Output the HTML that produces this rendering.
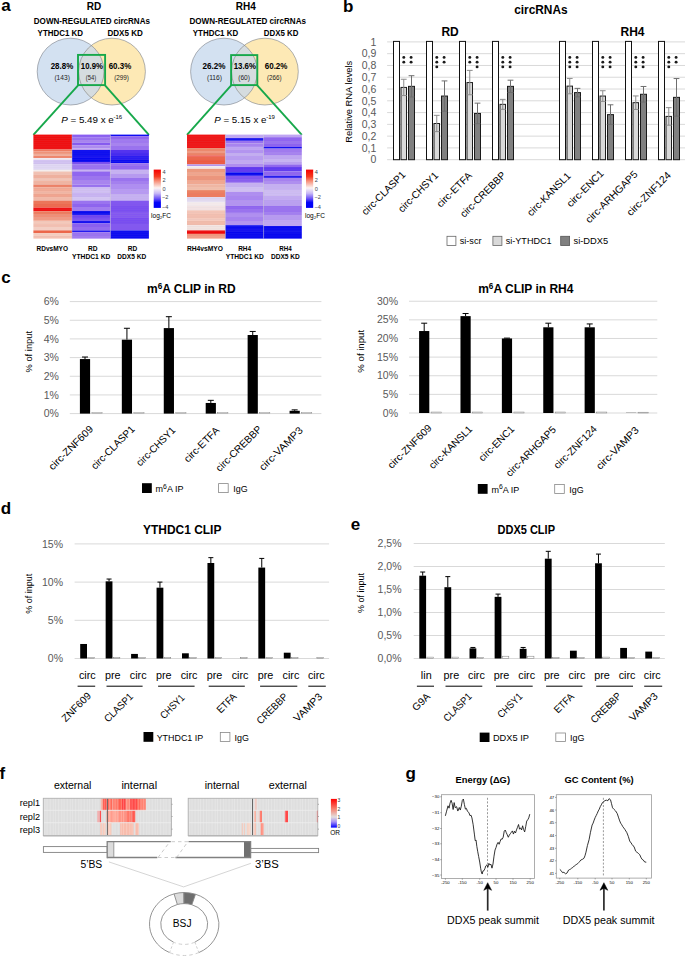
<!DOCTYPE html>
<html><head><meta charset="utf-8"><style>
html,body{margin:0;padding:0;background:#fff;}
body{width:685px;height:958px;overflow:hidden;}
svg{display:block;font-family:"Liberation Sans", sans-serif;}
</style></head><body>
<svg width="685" height="958" viewBox="0 0 685 958">
<rect x="0" y="0" width="685" height="958" fill="#fff"/>
<text x="1.20" y="11.30" font-size="17" font-weight="bold">a</text>
<text x="343.00" y="12.00" font-size="17" font-weight="bold">b</text>
<text x="1.20" y="282.50" font-size="17" font-weight="bold">c</text>
<text x="0.80" y="513.80" font-size="17" font-weight="bold">d</text>
<text x="350.70" y="530.20" font-size="17" font-weight="bold">e</text>
<text x="-0.50" y="779.00" font-size="17" font-weight="bold">f</text>
<text x="405.50" y="779.00" font-size="17" font-weight="bold">g</text>
<text x="93.90" y="9.60" font-size="10" text-anchor="middle" font-weight="bold">RD</text>
<text x="33.80" y="23.60" font-size="8.5" font-weight="bold" textLength="116.2" lengthAdjust="spacingAndGlyphs">DOWN-REGULATED circRNAs</text>
<text x="37.60" y="36.30" font-size="8.5" font-weight="bold" textLength="45.49999999999999" lengthAdjust="spacingAndGlyphs">YTHDC1 KD</text>
<text x="107.40" y="36.30" font-size="8.5" font-weight="bold" textLength="35.5" lengthAdjust="spacingAndGlyphs">DDX5 KD</text>
<clipPath id="c70"><circle cx="70.6" cy="71.6" r="33.4"/></clipPath>
<circle cx="70.6" cy="71.6" r="33.4" fill="#d3e1f1"/>
<circle cx="112.0" cy="71.6" r="33.4" fill="#fde9b5"/>
<circle cx="112.0" cy="71.6" r="33.4" fill="#d5dcdf" clip-path="url(#c70)"/>
<circle cx="70.6" cy="71.6" r="33.4" fill="none" stroke="#7a7f88" stroke-width="0.6"/>
<circle cx="112.0" cy="71.6" r="33.4" fill="none" stroke="#7a7f88" stroke-width="0.6"/>
<text x="50.70" y="69.00" font-size="8.6" font-weight="bold" textLength="22.5" lengthAdjust="spacingAndGlyphs">28.8%</text>
<text x="80.80" y="69.00" font-size="8.6" font-weight="bold" textLength="22.10000000000001" lengthAdjust="spacingAndGlyphs">10.9%</text>
<text x="108.70" y="69.00" font-size="8.6" font-weight="bold" textLength="22.499999999999986" lengthAdjust="spacingAndGlyphs">60.3%</text>
<text x="54.40" y="80.00" font-size="6.7" fill="#222" textLength="15.500000000000007" lengthAdjust="spacingAndGlyphs">(143)</text>
<text x="85.80" y="80.00" font-size="6.7" fill="#222" textLength="10.299999999999997" lengthAdjust="spacingAndGlyphs">(54)</text>
<text x="114.20" y="80.00" font-size="6.7" fill="#222" textLength="14.799999999999997" lengthAdjust="spacingAndGlyphs">(299)</text>
<rect x="78.00" y="54.90" width="27.10" height="30.20" fill="none" stroke="#17a84b" stroke-width="1.9"/>
<line x1="78.3" y1="85.1" x2="33.4" y2="134.8" stroke="#17a84b" stroke-width="1.9"/>
<line x1="104.8" y1="85.1" x2="148.9" y2="134.8" stroke="#17a84b" stroke-width="1.9"/>
<text x="61.20" y="123" font-size="9" textLength="52.6" lengthAdjust="spacingAndGlyphs"><tspan font-style="italic">P</tspan> = 5.49 x e</text>
<text x="113.50" y="118.50" font-size="6">-16</text>
<text x="245.70" y="9.60" font-size="10" text-anchor="middle" font-weight="bold">RH4</text>
<text x="189.40" y="23.60" font-size="8.5" font-weight="bold" textLength="116.6" lengthAdjust="spacingAndGlyphs">DOWN-REGULATED circRNAs</text>
<text x="192.80" y="36.30" font-size="8.5" font-weight="bold" textLength="45.39999999999998" lengthAdjust="spacingAndGlyphs">YTHDC1 KD</text>
<text x="263.80" y="36.30" font-size="8.5" font-weight="bold" textLength="34.69999999999999" lengthAdjust="spacingAndGlyphs">DDX5 KD</text>
<clipPath id="c224"><circle cx="224.0" cy="71.6" r="33.4"/></clipPath>
<circle cx="224.0" cy="71.6" r="33.4" fill="#d3e1f1"/>
<circle cx="264.9" cy="71.6" r="33.4" fill="#fde9b5"/>
<circle cx="264.9" cy="71.6" r="33.4" fill="#d5dcdf" clip-path="url(#c224)"/>
<circle cx="224.0" cy="71.6" r="33.4" fill="none" stroke="#7a7f88" stroke-width="0.6"/>
<circle cx="264.9" cy="71.6" r="33.4" fill="none" stroke="#7a7f88" stroke-width="0.6"/>
<text x="202.50" y="68.90" font-size="8.6" font-weight="bold" textLength="23.099999999999994" lengthAdjust="spacingAndGlyphs">26.2%</text>
<text x="233.70" y="68.90" font-size="8.6" font-weight="bold" textLength="22.30000000000001" lengthAdjust="spacingAndGlyphs">13.6%</text>
<text x="264.70" y="68.90" font-size="8.6" font-weight="bold" textLength="22.80000000000001" lengthAdjust="spacingAndGlyphs">60.2%</text>
<text x="206.90" y="80.00" font-size="6.7" fill="#222" textLength="15.199999999999989" lengthAdjust="spacingAndGlyphs">(116)</text>
<text x="238.20" y="80.00" font-size="6.7" fill="#222" textLength="11.700000000000017" lengthAdjust="spacingAndGlyphs">(60)</text>
<text x="267.00" y="80.00" font-size="6.7" fill="#222" textLength="14.699999999999989" lengthAdjust="spacingAndGlyphs">(266)</text>
<rect x="231.10" y="55.10" width="26.20" height="30.00" fill="none" stroke="#17a84b" stroke-width="1.9"/>
<line x1="231.4" y1="85.1" x2="187.0" y2="134.8" stroke="#17a84b" stroke-width="1.9"/>
<line x1="257.0" y1="85.1" x2="301.8" y2="134.8" stroke="#17a84b" stroke-width="1.9"/>
<text x="214.20" y="123" font-size="9" textLength="52.3" lengthAdjust="spacingAndGlyphs"><tspan font-style="italic">P</tspan> = 5.15 x e</text>
<text x="266.20" y="118.50" font-size="6">-19</text>
<rect x="33.40" y="134.60" width="38.60" height="14.92" fill="#f20d0d"/>
<rect x="33.40" y="149.50" width="38.60" height="2.02" fill="#f27a5e"/>
<rect x="33.40" y="151.50" width="38.60" height="2.42" fill="#f39277"/>
<rect x="33.40" y="153.90" width="38.60" height="1.92" fill="#f4ad98"/>
<rect x="33.40" y="155.80" width="38.60" height="2.22" fill="#f2866b"/>
<rect x="33.40" y="158.00" width="38.60" height="2.02" fill="#f3ebf3"/>
<rect x="33.40" y="160.00" width="38.60" height="4.02" fill="#d4c4f3"/>
<rect x="33.40" y="164.00" width="38.60" height="5.82" fill="#e2d9f5"/>
<rect x="33.40" y="169.80" width="38.60" height="1.72" fill="#f6efef"/>
<rect x="33.40" y="171.50" width="38.60" height="3.52" fill="#f5c3b3"/>
<rect x="33.40" y="175.00" width="38.60" height="3.02" fill="#f3b19d"/>
<rect x="33.40" y="178.00" width="38.60" height="3.02" fill="#f5c5b6"/>
<rect x="33.40" y="181.00" width="38.60" height="3.62" fill="#f3b5a2"/>
<rect x="33.40" y="184.60" width="38.60" height="2.92" fill="#f08266"/>
<rect x="33.40" y="187.50" width="38.60" height="3.52" fill="#f4ab95"/>
<rect x="33.40" y="191.00" width="38.60" height="3.02" fill="#f4b7a4"/>
<rect x="33.40" y="194.00" width="38.60" height="3.02" fill="#f4a58e"/>
<rect x="33.40" y="197.00" width="38.60" height="3.62" fill="#f5bba9"/>
<rect x="33.40" y="200.60" width="38.60" height="3.42" fill="#f07455"/>
<rect x="33.40" y="204.00" width="38.60" height="3.62" fill="#f06a4c"/>
<rect x="33.40" y="207.60" width="38.60" height="3.62" fill="#f21010"/>
<rect x="33.40" y="211.20" width="38.60" height="2.82" fill="#f07a5c"/>
<rect x="33.40" y="214.00" width="38.60" height="3.02" fill="#f28f75"/>
<rect x="33.40" y="217.00" width="38.60" height="3.82" fill="#f39c84"/>
<rect x="33.40" y="220.80" width="38.60" height="3.22" fill="#f7cabb"/>
<rect x="33.40" y="224.00" width="38.60" height="3.02" fill="#f6c2b2"/>
<rect x="33.40" y="227.00" width="38.60" height="3.42" fill="#f8d2c6"/>
<rect x="33.40" y="230.40" width="38.60" height="2.62" fill="#f06445"/>
<rect x="33.40" y="233.00" width="38.60" height="3.02" fill="#f8d0c2"/>
<rect x="33.40" y="236.00" width="38.60" height="2.62" fill="#f6c4b4"/>
<rect x="72.00" y="134.60" width="38.40" height="2.62" fill="#8a5ef2"/>
<rect x="72.00" y="137.20" width="38.40" height="2.82" fill="#9a71f2"/>
<rect x="72.00" y="140.00" width="38.40" height="2.62" fill="#a883f2"/>
<rect x="72.00" y="142.60" width="38.40" height="2.62" fill="#8659f2"/>
<rect x="72.00" y="145.20" width="38.40" height="3.32" fill="#ae8bf3"/>
<rect x="72.00" y="148.50" width="38.40" height="1.52" fill="#b89af3"/>
<rect x="72.00" y="150.00" width="38.40" height="6.02" fill="#0a0af2"/>
<rect x="72.00" y="156.00" width="38.40" height="2.02" fill="#140ff2"/>
<rect x="72.00" y="158.00" width="38.40" height="4.02" fill="#0606f2"/>
<rect x="72.00" y="162.00" width="38.40" height="2.62" fill="#7a4df2"/>
<rect x="72.00" y="164.60" width="38.40" height="5.22" fill="#9a71f2"/>
<rect x="72.00" y="169.80" width="38.40" height="1.62" fill="#c8b2f4"/>
<rect x="72.00" y="171.40" width="38.40" height="4.62" fill="#9064f2"/>
<rect x="72.00" y="176.00" width="38.40" height="4.02" fill="#9c73f2"/>
<rect x="72.00" y="180.00" width="38.40" height="4.62" fill="#a883f2"/>
<rect x="72.00" y="184.60" width="38.40" height="2.92" fill="#9a71f2"/>
<rect x="72.00" y="187.50" width="38.40" height="5.52" fill="#d2c1f5"/>
<rect x="72.00" y="193.00" width="38.40" height="4.02" fill="#cab5f4"/>
<rect x="72.00" y="197.00" width="38.40" height="3.62" fill="#d6c7f5"/>
<rect x="72.00" y="200.60" width="38.40" height="3.42" fill="#9a71f2"/>
<rect x="72.00" y="204.00" width="38.40" height="3.02" fill="#8e62f2"/>
<rect x="72.00" y="207.00" width="38.40" height="4.02" fill="#a27bf2"/>
<rect x="72.00" y="211.00" width="38.40" height="3.92" fill="#0808f2"/>
<rect x="72.00" y="214.90" width="38.40" height="3.12" fill="#7044f2"/>
<rect x="72.00" y="218.00" width="38.40" height="2.82" fill="#7c4ff2"/>
<rect x="72.00" y="220.80" width="38.40" height="2.62" fill="#120df2"/>
<rect x="72.00" y="223.40" width="38.40" height="3.62" fill="#8a5ef2"/>
<rect x="72.00" y="227.00" width="38.40" height="3.42" fill="#9469f2"/>
<rect x="72.00" y="230.40" width="38.40" height="1.82" fill="#2015f2"/>
<rect x="72.00" y="232.20" width="38.40" height="3.82" fill="#9a71f2"/>
<rect x="72.00" y="236.00" width="38.40" height="2.62" fill="#a27bf2"/>
<rect x="110.40" y="134.60" width="38.50" height="1.62" fill="#100cf2"/>
<rect x="110.40" y="136.20" width="38.50" height="2.82" fill="#9064f2"/>
<rect x="110.40" y="139.00" width="38.50" height="4.02" fill="#a078f2"/>
<rect x="110.40" y="143.00" width="38.50" height="3.02" fill="#a883f2"/>
<rect x="110.40" y="146.00" width="38.50" height="4.02" fill="#9a71f2"/>
<rect x="110.40" y="150.00" width="38.50" height="3.02" fill="#502ef2"/>
<rect x="110.40" y="153.00" width="38.50" height="3.02" fill="#4427f2"/>
<rect x="110.40" y="156.00" width="38.50" height="4.02" fill="#2a1af2"/>
<rect x="110.40" y="160.00" width="38.50" height="3.22" fill="#0a0af2"/>
<rect x="110.40" y="163.20" width="38.50" height="2.82" fill="#9a71f2"/>
<rect x="110.40" y="166.00" width="38.50" height="3.82" fill="#9267f2"/>
<rect x="110.40" y="169.80" width="38.50" height="4.22" fill="#c8b2f4"/>
<rect x="110.40" y="174.00" width="38.50" height="4.02" fill="#b89af3"/>
<rect x="110.40" y="178.00" width="38.50" height="3.02" fill="#9a71f2"/>
<rect x="110.40" y="181.00" width="38.50" height="3.02" fill="#a47ef2"/>
<rect x="110.40" y="184.00" width="38.50" height="5.02" fill="#b08ef4"/>
<rect x="110.40" y="189.00" width="38.50" height="5.02" fill="#b89af4"/>
<rect x="110.40" y="194.00" width="38.50" height="6.62" fill="#c8b2f4"/>
<rect x="110.40" y="200.60" width="38.50" height="5.42" fill="#8053f2"/>
<rect x="110.40" y="206.00" width="38.50" height="6.02" fill="#7a4df2"/>
<rect x="110.40" y="212.00" width="38.50" height="6.02" fill="#8457f2"/>
<rect x="110.40" y="218.00" width="38.50" height="6.02" fill="#784bf2"/>
<rect x="110.40" y="224.00" width="38.50" height="6.42" fill="#8255f2"/>
<rect x="110.40" y="230.40" width="38.50" height="8.22" fill="#0808f2"/>
<rect x="187.00" y="134.60" width="38.40" height="13.52" fill="#f21212"/>
<rect x="187.00" y="148.10" width="38.40" height="2.92" fill="#f08868"/>
<rect x="187.00" y="151.00" width="38.40" height="2.02" fill="#f39a80"/>
<rect x="187.00" y="153.00" width="38.40" height="2.72" fill="#f08466"/>
<rect x="187.00" y="155.70" width="38.40" height="0.92" fill="#f01818"/>
<rect x="187.00" y="156.60" width="38.40" height="3.42" fill="#f06448"/>
<rect x="187.00" y="160.00" width="38.40" height="4.42" fill="#f05a40"/>
<rect x="187.00" y="164.40" width="38.40" height="1.82" fill="#b494f2"/>
<rect x="187.00" y="166.20" width="38.40" height="2.62" fill="#f8f0f0"/>
<rect x="187.00" y="168.80" width="38.40" height="3.22" fill="#f09a7c"/>
<rect x="187.00" y="172.00" width="38.40" height="4.02" fill="#f3a68c"/>
<rect x="187.00" y="176.00" width="38.40" height="4.02" fill="#f0957a"/>
<rect x="187.00" y="180.00" width="38.40" height="4.62" fill="#f4a890"/>
<rect x="187.00" y="184.60" width="38.40" height="2.42" fill="#f4b8a2"/>
<rect x="187.00" y="187.00" width="38.40" height="3.12" fill="#f5c0ac"/>
<rect x="187.00" y="190.10" width="38.40" height="2.92" fill="#f08060"/>
<rect x="187.00" y="193.00" width="38.40" height="4.12" fill="#f07a5c"/>
<rect x="187.00" y="197.10" width="38.40" height="2.92" fill="#e2d9f3"/>
<rect x="187.00" y="200.00" width="38.40" height="2.42" fill="#e8e1f4"/>
<rect x="187.00" y="202.40" width="38.40" height="3.62" fill="#f8eeee"/>
<rect x="187.00" y="206.00" width="38.40" height="4.32" fill="#f6e6e6"/>
<rect x="187.00" y="210.30" width="38.40" height="3.72" fill="#f8c8b8"/>
<rect x="187.00" y="214.00" width="38.40" height="4.02" fill="#f6c0b0"/>
<rect x="187.00" y="218.00" width="38.40" height="3.02" fill="#f8ccbe"/>
<rect x="187.00" y="221.00" width="38.40" height="4.22" fill="#f5bcaa"/>
<rect x="187.00" y="225.20" width="38.40" height="5.22" fill="#f5e6e2"/>
<rect x="187.00" y="230.40" width="38.40" height="3.52" fill="#f20808"/>
<rect x="187.00" y="233.90" width="38.40" height="2.12" fill="#f4967c"/>
<rect x="187.00" y="236.00" width="38.40" height="2.62" fill="#f4a088"/>
<rect x="225.40" y="134.60" width="38.20" height="3.52" fill="#c2a9f4"/>
<rect x="225.40" y="138.10" width="38.20" height="2.72" fill="#120df2"/>
<rect x="225.40" y="140.80" width="38.20" height="2.72" fill="#9a71f2"/>
<rect x="225.40" y="143.50" width="38.20" height="3.42" fill="#a883f2"/>
<rect x="225.40" y="146.90" width="38.20" height="3.12" fill="#c0a6f4"/>
<rect x="225.40" y="150.00" width="38.20" height="3.02" fill="#b494f3"/>
<rect x="225.40" y="153.00" width="38.20" height="3.02" fill="#c6aff4"/>
<rect x="225.40" y="156.00" width="38.20" height="4.02" fill="#ba9df3"/>
<rect x="225.40" y="160.00" width="38.20" height="4.02" fill="#c4acf4"/>
<rect x="225.40" y="164.00" width="38.20" height="3.02" fill="#b08ef3"/>
<rect x="225.40" y="167.00" width="38.20" height="5.32" fill="#6038f2"/>
<rect x="225.40" y="172.30" width="38.20" height="3.52" fill="#0404f2"/>
<rect x="225.40" y="175.80" width="38.20" height="3.22" fill="#8053f2"/>
<rect x="225.40" y="179.00" width="38.20" height="3.82" fill="#8a5ef2"/>
<rect x="225.40" y="182.80" width="38.20" height="4.22" fill="#c8b2f4"/>
<rect x="225.40" y="187.00" width="38.20" height="4.92" fill="#d2c1f5"/>
<rect x="225.40" y="191.90" width="38.20" height="4.12" fill="#b08ef3"/>
<rect x="225.40" y="196.00" width="38.20" height="4.02" fill="#aa86f2"/>
<rect x="225.40" y="200.00" width="38.20" height="5.92" fill="#b494f3"/>
<rect x="225.40" y="205.90" width="38.20" height="3.12" fill="#9064f2"/>
<rect x="225.40" y="209.00" width="38.20" height="3.92" fill="#9a71f2"/>
<rect x="225.40" y="212.90" width="38.20" height="4.12" fill="#b08ef3"/>
<rect x="225.40" y="217.00" width="38.20" height="4.02" fill="#a883f2"/>
<rect x="225.40" y="221.00" width="38.20" height="4.22" fill="#b494f3"/>
<rect x="225.40" y="225.20" width="38.20" height="3.82" fill="#0606f2"/>
<rect x="225.40" y="229.00" width="38.20" height="3.02" fill="#100cf2"/>
<rect x="225.40" y="232.00" width="38.20" height="6.62" fill="#0404f2"/>
<rect x="263.60" y="134.60" width="38.20" height="2.62" fill="#c0a6f4"/>
<rect x="263.60" y="137.20" width="38.20" height="3.82" fill="#9064f2"/>
<rect x="263.60" y="141.00" width="38.20" height="3.02" fill="#9a71f2"/>
<rect x="263.60" y="144.00" width="38.20" height="2.92" fill="#8c60f2"/>
<rect x="263.60" y="146.90" width="38.20" height="1.72" fill="#120df2"/>
<rect x="263.60" y="148.60" width="38.20" height="3.42" fill="#a078f2"/>
<rect x="263.60" y="152.00" width="38.20" height="3.72" fill="#a883f2"/>
<rect x="263.60" y="155.70" width="38.20" height="3.32" fill="#c0a6f4"/>
<rect x="263.60" y="159.00" width="38.20" height="3.02" fill="#cab5f4"/>
<rect x="263.60" y="162.00" width="38.20" height="2.42" fill="#bca0f3"/>
<rect x="263.60" y="164.40" width="38.20" height="2.62" fill="#9064f2"/>
<rect x="263.60" y="167.00" width="38.20" height="4.42" fill="#6038f2"/>
<rect x="263.60" y="171.40" width="38.20" height="4.42" fill="#9064f2"/>
<rect x="263.60" y="175.80" width="38.20" height="2.12" fill="#2015f2"/>
<rect x="263.60" y="177.90" width="38.20" height="3.12" fill="#a883f2"/>
<rect x="263.60" y="181.00" width="38.20" height="3.02" fill="#b08ef3"/>
<rect x="263.60" y="184.00" width="38.20" height="6.02" fill="#c8b2f4"/>
<rect x="263.60" y="190.00" width="38.20" height="6.02" fill="#d0bef5"/>
<rect x="263.60" y="196.00" width="38.20" height="4.02" fill="#c4acf4"/>
<rect x="263.60" y="200.00" width="38.20" height="6.02" fill="#bca0f3"/>
<rect x="263.60" y="206.00" width="38.20" height="6.02" fill="#9a71f2"/>
<rect x="263.60" y="212.00" width="38.20" height="3.02" fill="#a47ef2"/>
<rect x="263.60" y="215.00" width="38.20" height="5.02" fill="#b89af3"/>
<rect x="263.60" y="220.00" width="38.20" height="6.02" fill="#c0a6f4"/>
<rect x="263.60" y="226.00" width="38.20" height="4.02" fill="#0404f2"/>
<rect x="263.60" y="230.00" width="38.20" height="3.02" fill="#0c0cf2"/>
<rect x="263.60" y="233.00" width="38.20" height="5.62" fill="#0202f2"/>
<line x1="33.40" y1="136.53" x2="148.90" y2="136.53" stroke="#a8a8b8" stroke-opacity="0.22" stroke-width="0.45"/>
<line x1="33.40" y1="138.45" x2="148.90" y2="138.45" stroke="#a8a8b8" stroke-opacity="0.22" stroke-width="0.45"/>
<line x1="33.40" y1="140.38" x2="148.90" y2="140.38" stroke="#a8a8b8" stroke-opacity="0.22" stroke-width="0.45"/>
<line x1="33.40" y1="142.30" x2="148.90" y2="142.30" stroke="#a8a8b8" stroke-opacity="0.22" stroke-width="0.45"/>
<line x1="33.40" y1="144.23" x2="148.90" y2="144.23" stroke="#a8a8b8" stroke-opacity="0.22" stroke-width="0.45"/>
<line x1="33.40" y1="146.16" x2="148.90" y2="146.16" stroke="#a8a8b8" stroke-opacity="0.22" stroke-width="0.45"/>
<line x1="33.40" y1="148.08" x2="148.90" y2="148.08" stroke="#a8a8b8" stroke-opacity="0.22" stroke-width="0.45"/>
<line x1="33.40" y1="150.01" x2="148.90" y2="150.01" stroke="#a8a8b8" stroke-opacity="0.22" stroke-width="0.45"/>
<line x1="33.40" y1="151.93" x2="148.90" y2="151.93" stroke="#a8a8b8" stroke-opacity="0.22" stroke-width="0.45"/>
<line x1="33.40" y1="153.86" x2="148.90" y2="153.86" stroke="#a8a8b8" stroke-opacity="0.22" stroke-width="0.45"/>
<line x1="33.40" y1="155.79" x2="148.90" y2="155.79" stroke="#a8a8b8" stroke-opacity="0.22" stroke-width="0.45"/>
<line x1="33.40" y1="157.71" x2="148.90" y2="157.71" stroke="#a8a8b8" stroke-opacity="0.22" stroke-width="0.45"/>
<line x1="33.40" y1="159.64" x2="148.90" y2="159.64" stroke="#a8a8b8" stroke-opacity="0.22" stroke-width="0.45"/>
<line x1="33.40" y1="161.56" x2="148.90" y2="161.56" stroke="#a8a8b8" stroke-opacity="0.22" stroke-width="0.45"/>
<line x1="33.40" y1="163.49" x2="148.90" y2="163.49" stroke="#a8a8b8" stroke-opacity="0.22" stroke-width="0.45"/>
<line x1="33.40" y1="165.41" x2="148.90" y2="165.41" stroke="#a8a8b8" stroke-opacity="0.22" stroke-width="0.45"/>
<line x1="33.40" y1="167.34" x2="148.90" y2="167.34" stroke="#a8a8b8" stroke-opacity="0.22" stroke-width="0.45"/>
<line x1="33.40" y1="169.27" x2="148.90" y2="169.27" stroke="#a8a8b8" stroke-opacity="0.22" stroke-width="0.45"/>
<line x1="33.40" y1="171.19" x2="148.90" y2="171.19" stroke="#a8a8b8" stroke-opacity="0.22" stroke-width="0.45"/>
<line x1="33.40" y1="173.12" x2="148.90" y2="173.12" stroke="#a8a8b8" stroke-opacity="0.22" stroke-width="0.45"/>
<line x1="33.40" y1="175.04" x2="148.90" y2="175.04" stroke="#a8a8b8" stroke-opacity="0.22" stroke-width="0.45"/>
<line x1="33.40" y1="176.97" x2="148.90" y2="176.97" stroke="#a8a8b8" stroke-opacity="0.22" stroke-width="0.45"/>
<line x1="33.40" y1="178.90" x2="148.90" y2="178.90" stroke="#a8a8b8" stroke-opacity="0.22" stroke-width="0.45"/>
<line x1="33.40" y1="180.82" x2="148.90" y2="180.82" stroke="#a8a8b8" stroke-opacity="0.22" stroke-width="0.45"/>
<line x1="33.40" y1="182.75" x2="148.90" y2="182.75" stroke="#a8a8b8" stroke-opacity="0.22" stroke-width="0.45"/>
<line x1="33.40" y1="184.67" x2="148.90" y2="184.67" stroke="#a8a8b8" stroke-opacity="0.22" stroke-width="0.45"/>
<line x1="33.40" y1="186.60" x2="148.90" y2="186.60" stroke="#a8a8b8" stroke-opacity="0.22" stroke-width="0.45"/>
<line x1="33.40" y1="188.53" x2="148.90" y2="188.53" stroke="#a8a8b8" stroke-opacity="0.22" stroke-width="0.45"/>
<line x1="33.40" y1="190.45" x2="148.90" y2="190.45" stroke="#a8a8b8" stroke-opacity="0.22" stroke-width="0.45"/>
<line x1="33.40" y1="192.38" x2="148.90" y2="192.38" stroke="#a8a8b8" stroke-opacity="0.22" stroke-width="0.45"/>
<line x1="33.40" y1="194.30" x2="148.90" y2="194.30" stroke="#a8a8b8" stroke-opacity="0.22" stroke-width="0.45"/>
<line x1="33.40" y1="196.23" x2="148.90" y2="196.23" stroke="#a8a8b8" stroke-opacity="0.22" stroke-width="0.45"/>
<line x1="33.40" y1="198.16" x2="148.90" y2="198.16" stroke="#a8a8b8" stroke-opacity="0.22" stroke-width="0.45"/>
<line x1="33.40" y1="200.08" x2="148.90" y2="200.08" stroke="#a8a8b8" stroke-opacity="0.22" stroke-width="0.45"/>
<line x1="33.40" y1="202.01" x2="148.90" y2="202.01" stroke="#a8a8b8" stroke-opacity="0.22" stroke-width="0.45"/>
<line x1="33.40" y1="203.93" x2="148.90" y2="203.93" stroke="#a8a8b8" stroke-opacity="0.22" stroke-width="0.45"/>
<line x1="33.40" y1="205.86" x2="148.90" y2="205.86" stroke="#a8a8b8" stroke-opacity="0.22" stroke-width="0.45"/>
<line x1="33.40" y1="207.79" x2="148.90" y2="207.79" stroke="#a8a8b8" stroke-opacity="0.22" stroke-width="0.45"/>
<line x1="33.40" y1="209.71" x2="148.90" y2="209.71" stroke="#a8a8b8" stroke-opacity="0.22" stroke-width="0.45"/>
<line x1="33.40" y1="211.64" x2="148.90" y2="211.64" stroke="#a8a8b8" stroke-opacity="0.22" stroke-width="0.45"/>
<line x1="33.40" y1="213.56" x2="148.90" y2="213.56" stroke="#a8a8b8" stroke-opacity="0.22" stroke-width="0.45"/>
<line x1="33.40" y1="215.49" x2="148.90" y2="215.49" stroke="#a8a8b8" stroke-opacity="0.22" stroke-width="0.45"/>
<line x1="33.40" y1="217.41" x2="148.90" y2="217.41" stroke="#a8a8b8" stroke-opacity="0.22" stroke-width="0.45"/>
<line x1="33.40" y1="219.34" x2="148.90" y2="219.34" stroke="#a8a8b8" stroke-opacity="0.22" stroke-width="0.45"/>
<line x1="33.40" y1="221.27" x2="148.90" y2="221.27" stroke="#a8a8b8" stroke-opacity="0.22" stroke-width="0.45"/>
<line x1="33.40" y1="223.19" x2="148.90" y2="223.19" stroke="#a8a8b8" stroke-opacity="0.22" stroke-width="0.45"/>
<line x1="33.40" y1="225.12" x2="148.90" y2="225.12" stroke="#a8a8b8" stroke-opacity="0.22" stroke-width="0.45"/>
<line x1="33.40" y1="227.04" x2="148.90" y2="227.04" stroke="#a8a8b8" stroke-opacity="0.22" stroke-width="0.45"/>
<line x1="33.40" y1="228.97" x2="148.90" y2="228.97" stroke="#a8a8b8" stroke-opacity="0.22" stroke-width="0.45"/>
<line x1="33.40" y1="230.90" x2="148.90" y2="230.90" stroke="#a8a8b8" stroke-opacity="0.22" stroke-width="0.45"/>
<line x1="33.40" y1="232.82" x2="148.90" y2="232.82" stroke="#a8a8b8" stroke-opacity="0.22" stroke-width="0.45"/>
<line x1="33.40" y1="234.75" x2="148.90" y2="234.75" stroke="#a8a8b8" stroke-opacity="0.22" stroke-width="0.45"/>
<line x1="33.40" y1="236.67" x2="148.90" y2="236.67" stroke="#a8a8b8" stroke-opacity="0.22" stroke-width="0.45"/>
<line x1="72.00" y1="134.60" x2="72.00" y2="238.60" stroke="#c0bcc8" stroke-opacity="0.7" stroke-width="0.6"/>
<line x1="110.40" y1="134.60" x2="110.40" y2="238.60" stroke="#c0bcc8" stroke-opacity="0.7" stroke-width="0.6"/>
<line x1="187.00" y1="136.33" x2="301.80" y2="136.33" stroke="#a8a8b8" stroke-opacity="0.22" stroke-width="0.45"/>
<line x1="187.00" y1="138.07" x2="301.80" y2="138.07" stroke="#a8a8b8" stroke-opacity="0.22" stroke-width="0.45"/>
<line x1="187.00" y1="139.80" x2="301.80" y2="139.80" stroke="#a8a8b8" stroke-opacity="0.22" stroke-width="0.45"/>
<line x1="187.00" y1="141.53" x2="301.80" y2="141.53" stroke="#a8a8b8" stroke-opacity="0.22" stroke-width="0.45"/>
<line x1="187.00" y1="143.27" x2="301.80" y2="143.27" stroke="#a8a8b8" stroke-opacity="0.22" stroke-width="0.45"/>
<line x1="187.00" y1="145.00" x2="301.80" y2="145.00" stroke="#a8a8b8" stroke-opacity="0.22" stroke-width="0.45"/>
<line x1="187.00" y1="146.73" x2="301.80" y2="146.73" stroke="#a8a8b8" stroke-opacity="0.22" stroke-width="0.45"/>
<line x1="187.00" y1="148.47" x2="301.80" y2="148.47" stroke="#a8a8b8" stroke-opacity="0.22" stroke-width="0.45"/>
<line x1="187.00" y1="150.20" x2="301.80" y2="150.20" stroke="#a8a8b8" stroke-opacity="0.22" stroke-width="0.45"/>
<line x1="187.00" y1="151.93" x2="301.80" y2="151.93" stroke="#a8a8b8" stroke-opacity="0.22" stroke-width="0.45"/>
<line x1="187.00" y1="153.67" x2="301.80" y2="153.67" stroke="#a8a8b8" stroke-opacity="0.22" stroke-width="0.45"/>
<line x1="187.00" y1="155.40" x2="301.80" y2="155.40" stroke="#a8a8b8" stroke-opacity="0.22" stroke-width="0.45"/>
<line x1="187.00" y1="157.13" x2="301.80" y2="157.13" stroke="#a8a8b8" stroke-opacity="0.22" stroke-width="0.45"/>
<line x1="187.00" y1="158.87" x2="301.80" y2="158.87" stroke="#a8a8b8" stroke-opacity="0.22" stroke-width="0.45"/>
<line x1="187.00" y1="160.60" x2="301.80" y2="160.60" stroke="#a8a8b8" stroke-opacity="0.22" stroke-width="0.45"/>
<line x1="187.00" y1="162.33" x2="301.80" y2="162.33" stroke="#a8a8b8" stroke-opacity="0.22" stroke-width="0.45"/>
<line x1="187.00" y1="164.07" x2="301.80" y2="164.07" stroke="#a8a8b8" stroke-opacity="0.22" stroke-width="0.45"/>
<line x1="187.00" y1="165.80" x2="301.80" y2="165.80" stroke="#a8a8b8" stroke-opacity="0.22" stroke-width="0.45"/>
<line x1="187.00" y1="167.53" x2="301.80" y2="167.53" stroke="#a8a8b8" stroke-opacity="0.22" stroke-width="0.45"/>
<line x1="187.00" y1="169.27" x2="301.80" y2="169.27" stroke="#a8a8b8" stroke-opacity="0.22" stroke-width="0.45"/>
<line x1="187.00" y1="171.00" x2="301.80" y2="171.00" stroke="#a8a8b8" stroke-opacity="0.22" stroke-width="0.45"/>
<line x1="187.00" y1="172.73" x2="301.80" y2="172.73" stroke="#a8a8b8" stroke-opacity="0.22" stroke-width="0.45"/>
<line x1="187.00" y1="174.47" x2="301.80" y2="174.47" stroke="#a8a8b8" stroke-opacity="0.22" stroke-width="0.45"/>
<line x1="187.00" y1="176.20" x2="301.80" y2="176.20" stroke="#a8a8b8" stroke-opacity="0.22" stroke-width="0.45"/>
<line x1="187.00" y1="177.93" x2="301.80" y2="177.93" stroke="#a8a8b8" stroke-opacity="0.22" stroke-width="0.45"/>
<line x1="187.00" y1="179.67" x2="301.80" y2="179.67" stroke="#a8a8b8" stroke-opacity="0.22" stroke-width="0.45"/>
<line x1="187.00" y1="181.40" x2="301.80" y2="181.40" stroke="#a8a8b8" stroke-opacity="0.22" stroke-width="0.45"/>
<line x1="187.00" y1="183.13" x2="301.80" y2="183.13" stroke="#a8a8b8" stroke-opacity="0.22" stroke-width="0.45"/>
<line x1="187.00" y1="184.87" x2="301.80" y2="184.87" stroke="#a8a8b8" stroke-opacity="0.22" stroke-width="0.45"/>
<line x1="187.00" y1="186.60" x2="301.80" y2="186.60" stroke="#a8a8b8" stroke-opacity="0.22" stroke-width="0.45"/>
<line x1="187.00" y1="188.33" x2="301.80" y2="188.33" stroke="#a8a8b8" stroke-opacity="0.22" stroke-width="0.45"/>
<line x1="187.00" y1="190.07" x2="301.80" y2="190.07" stroke="#a8a8b8" stroke-opacity="0.22" stroke-width="0.45"/>
<line x1="187.00" y1="191.80" x2="301.80" y2="191.80" stroke="#a8a8b8" stroke-opacity="0.22" stroke-width="0.45"/>
<line x1="187.00" y1="193.53" x2="301.80" y2="193.53" stroke="#a8a8b8" stroke-opacity="0.22" stroke-width="0.45"/>
<line x1="187.00" y1="195.27" x2="301.80" y2="195.27" stroke="#a8a8b8" stroke-opacity="0.22" stroke-width="0.45"/>
<line x1="187.00" y1="197.00" x2="301.80" y2="197.00" stroke="#a8a8b8" stroke-opacity="0.22" stroke-width="0.45"/>
<line x1="187.00" y1="198.73" x2="301.80" y2="198.73" stroke="#a8a8b8" stroke-opacity="0.22" stroke-width="0.45"/>
<line x1="187.00" y1="200.47" x2="301.80" y2="200.47" stroke="#a8a8b8" stroke-opacity="0.22" stroke-width="0.45"/>
<line x1="187.00" y1="202.20" x2="301.80" y2="202.20" stroke="#a8a8b8" stroke-opacity="0.22" stroke-width="0.45"/>
<line x1="187.00" y1="203.93" x2="301.80" y2="203.93" stroke="#a8a8b8" stroke-opacity="0.22" stroke-width="0.45"/>
<line x1="187.00" y1="205.67" x2="301.80" y2="205.67" stroke="#a8a8b8" stroke-opacity="0.22" stroke-width="0.45"/>
<line x1="187.00" y1="207.40" x2="301.80" y2="207.40" stroke="#a8a8b8" stroke-opacity="0.22" stroke-width="0.45"/>
<line x1="187.00" y1="209.13" x2="301.80" y2="209.13" stroke="#a8a8b8" stroke-opacity="0.22" stroke-width="0.45"/>
<line x1="187.00" y1="210.87" x2="301.80" y2="210.87" stroke="#a8a8b8" stroke-opacity="0.22" stroke-width="0.45"/>
<line x1="187.00" y1="212.60" x2="301.80" y2="212.60" stroke="#a8a8b8" stroke-opacity="0.22" stroke-width="0.45"/>
<line x1="187.00" y1="214.33" x2="301.80" y2="214.33" stroke="#a8a8b8" stroke-opacity="0.22" stroke-width="0.45"/>
<line x1="187.00" y1="216.07" x2="301.80" y2="216.07" stroke="#a8a8b8" stroke-opacity="0.22" stroke-width="0.45"/>
<line x1="187.00" y1="217.80" x2="301.80" y2="217.80" stroke="#a8a8b8" stroke-opacity="0.22" stroke-width="0.45"/>
<line x1="187.00" y1="219.53" x2="301.80" y2="219.53" stroke="#a8a8b8" stroke-opacity="0.22" stroke-width="0.45"/>
<line x1="187.00" y1="221.27" x2="301.80" y2="221.27" stroke="#a8a8b8" stroke-opacity="0.22" stroke-width="0.45"/>
<line x1="187.00" y1="223.00" x2="301.80" y2="223.00" stroke="#a8a8b8" stroke-opacity="0.22" stroke-width="0.45"/>
<line x1="187.00" y1="224.73" x2="301.80" y2="224.73" stroke="#a8a8b8" stroke-opacity="0.22" stroke-width="0.45"/>
<line x1="187.00" y1="226.47" x2="301.80" y2="226.47" stroke="#a8a8b8" stroke-opacity="0.22" stroke-width="0.45"/>
<line x1="187.00" y1="228.20" x2="301.80" y2="228.20" stroke="#a8a8b8" stroke-opacity="0.22" stroke-width="0.45"/>
<line x1="187.00" y1="229.93" x2="301.80" y2="229.93" stroke="#a8a8b8" stroke-opacity="0.22" stroke-width="0.45"/>
<line x1="187.00" y1="231.67" x2="301.80" y2="231.67" stroke="#a8a8b8" stroke-opacity="0.22" stroke-width="0.45"/>
<line x1="187.00" y1="233.40" x2="301.80" y2="233.40" stroke="#a8a8b8" stroke-opacity="0.22" stroke-width="0.45"/>
<line x1="187.00" y1="235.13" x2="301.80" y2="235.13" stroke="#a8a8b8" stroke-opacity="0.22" stroke-width="0.45"/>
<line x1="187.00" y1="236.87" x2="301.80" y2="236.87" stroke="#a8a8b8" stroke-opacity="0.22" stroke-width="0.45"/>
<line x1="225.40" y1="134.60" x2="225.40" y2="238.60" stroke="#c0bcc8" stroke-opacity="0.7" stroke-width="0.6"/>
<line x1="263.60" y1="134.60" x2="263.60" y2="238.60" stroke="#c0bcc8" stroke-opacity="0.7" stroke-width="0.6"/>
<defs><linearGradient id="cbgrad" x1="0" y1="0" x2="0" y2="1"><stop offset="0" stop-color="#f50000"/><stop offset="0.18" stop-color="#f63a20"/><stop offset="0.3" stop-color="#f7907a"/><stop offset="0.48" stop-color="#fbf4f4"/><stop offset="0.62" stop-color="#c8b8f6"/><stop offset="0.76" stop-color="#6a50f6"/><stop offset="0.86" stop-color="#0404f8"/><stop offset="1" stop-color="#0000f5"/></linearGradient></defs>
<rect x="153.7" y="169.6" width="7.2" height="38.3" fill="url(#cbgrad)"/>
<text x="162.40" y="173.60" font-size="5.6" fill="#3b4550">4</text>
<text x="162.40" y="182.00" font-size="5.6" fill="#3b4550">2</text>
<text x="162.40" y="190.80" font-size="5.6" fill="#3b4550">0</text>
<text x="162.10" y="199.30" font-size="5.6" fill="#3b4550">−2</text>
<text x="162.10" y="208.60" font-size="5.6" fill="#3b4550">−4</text>
<text x="151.10" y="217.60" font-size="6.8" textLength="20" lengthAdjust="spacingAndGlyphs">log₂FC</text>
<rect x="306.0" y="169.6" width="7.2" height="38.3" fill="url(#cbgrad)"/>
<text x="314.70" y="173.60" font-size="5.6" fill="#3b4550">4</text>
<text x="314.70" y="182.00" font-size="5.6" fill="#3b4550">2</text>
<text x="314.70" y="190.80" font-size="5.6" fill="#3b4550">0</text>
<text x="314.40" y="199.30" font-size="5.6" fill="#3b4550">−2</text>
<text x="314.40" y="208.60" font-size="5.6" fill="#3b4550">−4</text>
<text x="305.00" y="217.60" font-size="6.8" textLength="20" lengthAdjust="spacingAndGlyphs">log₂FC</text>
<text x="36.60" y="250.90" font-size="6.8" font-weight="bold" textLength="31.4" lengthAdjust="spacingAndGlyphs">RDvsMYO</text>
<text x="87.90" y="250.90" font-size="6.8" font-weight="bold" textLength="9.5" lengthAdjust="spacingAndGlyphs">RD</text>
<text x="72.10" y="258.90" font-size="6.8" font-weight="bold" textLength="38.2" lengthAdjust="spacingAndGlyphs">YTHDC1 KD</text>
<text x="127.70" y="250.90" font-size="6.8" font-weight="bold" textLength="9.499999999999986" lengthAdjust="spacingAndGlyphs">RD</text>
<text x="117.30" y="258.90" font-size="6.8" font-weight="bold" textLength="28.89999999999999" lengthAdjust="spacingAndGlyphs">DDX5 KD</text>
<text x="186.90" y="250.90" font-size="6.8" font-weight="bold" textLength="36.0" lengthAdjust="spacingAndGlyphs">RH4vsMYO</text>
<text x="238.20" y="250.90" font-size="6.8" font-weight="bold" textLength="12.900000000000006" lengthAdjust="spacingAndGlyphs">RH4</text>
<text x="225.80" y="258.90" font-size="6.8" font-weight="bold" textLength="38.0" lengthAdjust="spacingAndGlyphs">YTHDC1 KD</text>
<text x="279.20" y="250.90" font-size="6.8" font-weight="bold" textLength="12.400000000000034" lengthAdjust="spacingAndGlyphs">RH4</text>
<text x="271.00" y="258.90" font-size="6.8" font-weight="bold" textLength="28.80000000000001" lengthAdjust="spacingAndGlyphs">DDX5 KD</text>
<text x="450.10" y="36.00" font-size="12" text-anchor="middle" font-weight="bold">RD</text>
<text x="632.50" y="36.00" font-size="12" text-anchor="middle" font-weight="bold">RH4</text>
<text x="514.20" y="13.70" font-size="12" font-weight="bold" textLength="53.4" lengthAdjust="spacingAndGlyphs">circRNAs</text>
<line x1="387.10" y1="159.70" x2="685.00" y2="159.70" stroke="#d9d9d9" stroke-width="1" />
<text x="376.30" y="163.40" font-size="10.5" text-anchor="end" fill="#595959">0</text>
<line x1="387.10" y1="147.92" x2="685.00" y2="147.92" stroke="#d9d9d9" stroke-width="1" />
<text x="376.30" y="151.62" font-size="10.5" text-anchor="end" fill="#595959">0,1</text>
<line x1="387.10" y1="136.14" x2="685.00" y2="136.14" stroke="#d9d9d9" stroke-width="1" />
<text x="376.30" y="139.84" font-size="10.5" text-anchor="end" fill="#595959">0,2</text>
<line x1="387.10" y1="124.36" x2="685.00" y2="124.36" stroke="#d9d9d9" stroke-width="1" />
<text x="376.30" y="128.06" font-size="10.5" text-anchor="end" fill="#595959">0,3</text>
<line x1="387.10" y1="112.58" x2="685.00" y2="112.58" stroke="#d9d9d9" stroke-width="1" />
<text x="376.30" y="116.28" font-size="10.5" text-anchor="end" fill="#595959">0,4</text>
<line x1="387.10" y1="100.80" x2="685.00" y2="100.80" stroke="#d9d9d9" stroke-width="1" />
<text x="376.30" y="104.50" font-size="10.5" text-anchor="end" fill="#595959">0,5</text>
<line x1="387.10" y1="89.02" x2="685.00" y2="89.02" stroke="#d9d9d9" stroke-width="1" />
<text x="376.30" y="92.72" font-size="10.5" text-anchor="end" fill="#595959">0,6</text>
<line x1="387.10" y1="77.24" x2="685.00" y2="77.24" stroke="#d9d9d9" stroke-width="1" />
<text x="376.30" y="80.94" font-size="10.5" text-anchor="end" fill="#595959">0,7</text>
<line x1="387.10" y1="65.46" x2="685.00" y2="65.46" stroke="#d9d9d9" stroke-width="1" />
<text x="376.30" y="69.16" font-size="10.5" text-anchor="end" fill="#595959">0,8</text>
<line x1="387.10" y1="53.68" x2="685.00" y2="53.68" stroke="#d9d9d9" stroke-width="1" />
<text x="376.30" y="57.38" font-size="10.5" text-anchor="end" fill="#595959">0,9</text>
<line x1="387.10" y1="41.90" x2="685.00" y2="41.90" stroke="#d9d9d9" stroke-width="1" />
<text x="376.30" y="45.60" font-size="10.5" text-anchor="end" fill="#595959">1</text>
<text x="352.10" y="101.70" font-size="9.5" text-anchor="middle" transform="rotate(-90 352.10 101.70)" textLength="82" lengthAdjust="spacingAndGlyphs">Relative RNA levels</text>
<rect x="393.50" y="41.40" width="6" height="118.30" fill="#fff" stroke="#111" stroke-width="1"/>
<rect x="401.00" y="87.42" width="5.5" height="72.28" fill="#d9d9d9" stroke="#1e1e1e" stroke-width="1"/>
<rect x="408.50" y="86.35" width="6" height="73.35" fill="#808080" stroke="#1a1a1a" stroke-width="1"/>
<line x1="403.75" y1="79.26" x2="403.75" y2="95.58" stroke="#8c8c8c" stroke-width="1" />
<line x1="400.85" y1="79.26" x2="406.65" y2="79.26" stroke="#8c8c8c" stroke-width="1" />
<line x1="400.85" y1="95.58" x2="406.65" y2="95.58" stroke="#8c8c8c" stroke-width="1" />
<line x1="411.50" y1="75.71" x2="411.50" y2="97.00" stroke="#6e6e6e" stroke-width="1" />
<line x1="408.60" y1="75.71" x2="414.40" y2="75.71" stroke="#6e6e6e" stroke-width="1" />
<line x1="408.60" y1="97.00" x2="414.40" y2="97.00" stroke="#6e6e6e" stroke-width="1" />
<circle cx="403.80" cy="57.40" r="1.45" fill="#1a1a1a"/>
<circle cx="403.80" cy="62.15" r="1.45" fill="#1a1a1a"/>
<circle cx="411.10" cy="57.40" r="1.45" fill="#1a1a1a"/>
<circle cx="411.10" cy="62.15" r="1.45" fill="#1a1a1a"/>
<rect x="426.50" y="41.40" width="6" height="118.30" fill="#fff" stroke="#111" stroke-width="1"/>
<rect x="434.00" y="123.50" width="5.5" height="36.20" fill="#d9d9d9" stroke="#1e1e1e" stroke-width="1"/>
<rect x="441.50" y="96.05" width="6" height="63.65" fill="#808080" stroke="#1a1a1a" stroke-width="1"/>
<line x1="436.75" y1="115.34" x2="436.75" y2="131.66" stroke="#8c8c8c" stroke-width="1" />
<line x1="433.85" y1="115.34" x2="439.65" y2="115.34" stroke="#8c8c8c" stroke-width="1" />
<line x1="433.85" y1="131.66" x2="439.65" y2="131.66" stroke="#8c8c8c" stroke-width="1" />
<line x1="444.50" y1="80.91" x2="444.50" y2="111.20" stroke="#6e6e6e" stroke-width="1" />
<line x1="441.60" y1="80.91" x2="447.40" y2="80.91" stroke="#6e6e6e" stroke-width="1" />
<line x1="441.60" y1="111.20" x2="447.40" y2="111.20" stroke="#6e6e6e" stroke-width="1" />
<circle cx="436.80" cy="57.40" r="1.45" fill="#1a1a1a"/>
<circle cx="436.80" cy="62.15" r="1.45" fill="#1a1a1a"/>
<circle cx="436.80" cy="66.90" r="1.45" fill="#1a1a1a"/>
<circle cx="444.10" cy="57.40" r="1.45" fill="#1a1a1a"/>
<circle cx="444.10" cy="62.15" r="1.45" fill="#1a1a1a"/>
<rect x="459.50" y="41.40" width="6" height="118.30" fill="#fff" stroke="#111" stroke-width="1"/>
<rect x="467.00" y="82.57" width="5.5" height="77.13" fill="#d9d9d9" stroke="#1e1e1e" stroke-width="1"/>
<rect x="474.50" y="113.44" width="6" height="46.26" fill="#808080" stroke="#1a1a1a" stroke-width="1"/>
<line x1="469.75" y1="70.38" x2="469.75" y2="94.75" stroke="#8c8c8c" stroke-width="1" />
<line x1="466.85" y1="70.38" x2="472.65" y2="70.38" stroke="#8c8c8c" stroke-width="1" />
<line x1="466.85" y1="94.75" x2="472.65" y2="94.75" stroke="#8c8c8c" stroke-width="1" />
<line x1="477.50" y1="103.15" x2="477.50" y2="123.74" stroke="#6e6e6e" stroke-width="1" />
<line x1="474.60" y1="103.15" x2="480.40" y2="103.15" stroke="#6e6e6e" stroke-width="1" />
<line x1="474.60" y1="123.74" x2="480.40" y2="123.74" stroke="#6e6e6e" stroke-width="1" />
<circle cx="469.80" cy="57.40" r="1.45" fill="#1a1a1a"/>
<circle cx="469.80" cy="62.15" r="1.45" fill="#1a1a1a"/>
<circle cx="477.10" cy="57.40" r="1.45" fill="#1a1a1a"/>
<circle cx="477.10" cy="62.15" r="1.45" fill="#1a1a1a"/>
<circle cx="477.10" cy="66.90" r="1.45" fill="#1a1a1a"/>
<rect x="492.50" y="41.40" width="6" height="118.30" fill="#fff" stroke="#111" stroke-width="1"/>
<rect x="500.00" y="104.34" width="5.5" height="55.36" fill="#d9d9d9" stroke="#1e1e1e" stroke-width="1"/>
<rect x="507.50" y="86.35" width="6" height="73.35" fill="#808080" stroke="#1a1a1a" stroke-width="1"/>
<line x1="502.75" y1="99.37" x2="502.75" y2="109.30" stroke="#8c8c8c" stroke-width="1" />
<line x1="499.85" y1="99.37" x2="505.65" y2="99.37" stroke="#8c8c8c" stroke-width="1" />
<line x1="499.85" y1="109.30" x2="505.65" y2="109.30" stroke="#8c8c8c" stroke-width="1" />
<line x1="510.50" y1="80.20" x2="510.50" y2="92.51" stroke="#6e6e6e" stroke-width="1" />
<line x1="507.60" y1="80.20" x2="513.40" y2="80.20" stroke="#6e6e6e" stroke-width="1" />
<line x1="507.60" y1="92.51" x2="513.40" y2="92.51" stroke="#6e6e6e" stroke-width="1" />
<circle cx="502.80" cy="57.40" r="1.45" fill="#1a1a1a"/>
<circle cx="502.80" cy="62.15" r="1.45" fill="#1a1a1a"/>
<circle cx="502.80" cy="66.90" r="1.45" fill="#1a1a1a"/>
<circle cx="510.10" cy="57.40" r="1.45" fill="#1a1a1a"/>
<circle cx="510.10" cy="62.15" r="1.45" fill="#1a1a1a"/>
<circle cx="510.10" cy="66.90" r="1.45" fill="#1a1a1a"/>
<rect x="559.50" y="41.40" width="6" height="118.30" fill="#fff" stroke="#111" stroke-width="1"/>
<rect x="567.00" y="86.12" width="5.5" height="73.58" fill="#d9d9d9" stroke="#1e1e1e" stroke-width="1"/>
<rect x="574.50" y="92.62" width="6" height="67.08" fill="#808080" stroke="#1a1a1a" stroke-width="1"/>
<line x1="569.75" y1="78.43" x2="569.75" y2="93.81" stroke="#8c8c8c" stroke-width="1" />
<line x1="566.85" y1="78.43" x2="572.65" y2="78.43" stroke="#8c8c8c" stroke-width="1" />
<line x1="566.85" y1="93.81" x2="572.65" y2="93.81" stroke="#8c8c8c" stroke-width="1" />
<line x1="577.50" y1="88.37" x2="577.50" y2="96.88" stroke="#6e6e6e" stroke-width="1" />
<line x1="574.60" y1="88.37" x2="580.40" y2="88.37" stroke="#6e6e6e" stroke-width="1" />
<line x1="574.60" y1="96.88" x2="580.40" y2="96.88" stroke="#6e6e6e" stroke-width="1" />
<circle cx="569.80" cy="57.40" r="1.45" fill="#1a1a1a"/>
<circle cx="569.80" cy="62.15" r="1.45" fill="#1a1a1a"/>
<circle cx="569.80" cy="66.90" r="1.45" fill="#1a1a1a"/>
<circle cx="577.10" cy="57.40" r="1.45" fill="#1a1a1a"/>
<circle cx="577.10" cy="62.15" r="1.45" fill="#1a1a1a"/>
<circle cx="577.10" cy="66.90" r="1.45" fill="#1a1a1a"/>
<rect x="592.50" y="41.40" width="6" height="118.30" fill="#fff" stroke="#111" stroke-width="1"/>
<rect x="600.00" y="96.05" width="5.5" height="63.65" fill="#d9d9d9" stroke="#1e1e1e" stroke-width="1"/>
<rect x="607.50" y="114.63" width="6" height="45.07" fill="#808080" stroke="#1a1a1a" stroke-width="1"/>
<line x1="602.75" y1="90.73" x2="602.75" y2="101.38" stroke="#8c8c8c" stroke-width="1" />
<line x1="599.85" y1="90.73" x2="605.65" y2="90.73" stroke="#8c8c8c" stroke-width="1" />
<line x1="599.85" y1="101.38" x2="605.65" y2="101.38" stroke="#8c8c8c" stroke-width="1" />
<line x1="610.50" y1="104.81" x2="610.50" y2="124.45" stroke="#6e6e6e" stroke-width="1" />
<line x1="607.60" y1="104.81" x2="613.40" y2="104.81" stroke="#6e6e6e" stroke-width="1" />
<line x1="607.60" y1="124.45" x2="613.40" y2="124.45" stroke="#6e6e6e" stroke-width="1" />
<circle cx="602.80" cy="57.40" r="1.45" fill="#1a1a1a"/>
<circle cx="602.80" cy="62.15" r="1.45" fill="#1a1a1a"/>
<circle cx="602.80" cy="66.90" r="1.45" fill="#1a1a1a"/>
<circle cx="610.10" cy="57.40" r="1.45" fill="#1a1a1a"/>
<circle cx="610.10" cy="62.15" r="1.45" fill="#1a1a1a"/>
<circle cx="610.10" cy="66.90" r="1.45" fill="#1a1a1a"/>
<rect x="625.50" y="41.40" width="6" height="118.30" fill="#fff" stroke="#111" stroke-width="1"/>
<rect x="633.00" y="102.68" width="5.5" height="57.02" fill="#d9d9d9" stroke="#1e1e1e" stroke-width="1"/>
<rect x="640.50" y="94.28" width="6" height="65.42" fill="#808080" stroke="#1a1a1a" stroke-width="1"/>
<line x1="635.75" y1="95.94" x2="635.75" y2="109.42" stroke="#8c8c8c" stroke-width="1" />
<line x1="632.85" y1="95.94" x2="638.65" y2="95.94" stroke="#8c8c8c" stroke-width="1" />
<line x1="632.85" y1="109.42" x2="638.65" y2="109.42" stroke="#8c8c8c" stroke-width="1" />
<line x1="643.50" y1="86.47" x2="643.50" y2="102.09" stroke="#6e6e6e" stroke-width="1" />
<line x1="640.60" y1="86.47" x2="646.40" y2="86.47" stroke="#6e6e6e" stroke-width="1" />
<line x1="640.60" y1="102.09" x2="646.40" y2="102.09" stroke="#6e6e6e" stroke-width="1" />
<circle cx="635.80" cy="57.40" r="1.45" fill="#1a1a1a"/>
<circle cx="635.80" cy="62.15" r="1.45" fill="#1a1a1a"/>
<circle cx="635.80" cy="66.90" r="1.45" fill="#1a1a1a"/>
<circle cx="643.10" cy="57.40" r="1.45" fill="#1a1a1a"/>
<circle cx="643.10" cy="62.15" r="1.45" fill="#1a1a1a"/>
<circle cx="643.10" cy="66.90" r="1.45" fill="#1a1a1a"/>
<rect x="658.50" y="41.40" width="6" height="118.30" fill="#fff" stroke="#111" stroke-width="1"/>
<rect x="666.00" y="116.40" width="5.5" height="43.30" fill="#d9d9d9" stroke="#1e1e1e" stroke-width="1"/>
<rect x="673.50" y="97.36" width="6" height="62.34" fill="#808080" stroke="#1a1a1a" stroke-width="1"/>
<line x1="668.75" y1="107.65" x2="668.75" y2="125.16" stroke="#8c8c8c" stroke-width="1" />
<line x1="665.85" y1="107.65" x2="671.65" y2="107.65" stroke="#8c8c8c" stroke-width="1" />
<line x1="665.85" y1="125.16" x2="671.65" y2="125.16" stroke="#8c8c8c" stroke-width="1" />
<line x1="676.50" y1="78.55" x2="676.50" y2="116.17" stroke="#6e6e6e" stroke-width="1" />
<line x1="673.60" y1="78.55" x2="679.40" y2="78.55" stroke="#6e6e6e" stroke-width="1" />
<line x1="673.60" y1="116.17" x2="679.40" y2="116.17" stroke="#6e6e6e" stroke-width="1" />
<circle cx="668.80" cy="57.40" r="1.45" fill="#1a1a1a"/>
<circle cx="668.80" cy="62.15" r="1.45" fill="#1a1a1a"/>
<circle cx="668.80" cy="66.90" r="1.45" fill="#1a1a1a"/>
<circle cx="676.10" cy="57.40" r="1.45" fill="#1a1a1a"/>
<circle cx="676.10" cy="62.15" r="1.45" fill="#1a1a1a"/>
<rect x="447.00" y="236.30" width="8.90" height="9.20" fill="#fff" stroke="#666" stroke-width="0.8"/>
<text x="459.70" y="243.60" font-size="9" textLength="21.8" lengthAdjust="spacingAndGlyphs">si-scr</text>
<rect x="492.90" y="236.30" width="9.00" height="9.20" fill="#d9d9d9" stroke="#666" stroke-width="0.8"/>
<text x="505.70" y="243.60" font-size="9" textLength="46" lengthAdjust="spacingAndGlyphs">si-YTHDC1</text>
<rect x="560.70" y="236.30" width="8.90" height="9.20" fill="#808080" stroke="#555" stroke-width="0.8"/>
<text x="573.50" y="243.60" font-size="9" textLength="34.7" lengthAdjust="spacingAndGlyphs">si-DDX5</text>
<line x1="69.80" y1="413.60" x2="321.40" y2="413.60" stroke="#d9d9d9" stroke-width="1" />
<text x="58.90" y="417.20" font-size="10.5" text-anchor="end" fill="#595959">0%</text>
<line x1="69.80" y1="394.93" x2="321.40" y2="394.93" stroke="#d9d9d9" stroke-width="1" />
<text x="58.90" y="398.53" font-size="10.5" text-anchor="end" fill="#595959">1%</text>
<line x1="69.80" y1="376.26" x2="321.40" y2="376.26" stroke="#d9d9d9" stroke-width="1" />
<text x="58.90" y="379.86" font-size="10.5" text-anchor="end" fill="#595959">2%</text>
<line x1="69.80" y1="357.59" x2="321.40" y2="357.59" stroke="#d9d9d9" stroke-width="1" />
<text x="58.90" y="361.19" font-size="10.5" text-anchor="end" fill="#595959">3%</text>
<line x1="69.80" y1="338.92" x2="321.40" y2="338.92" stroke="#d9d9d9" stroke-width="1" />
<text x="58.90" y="342.52" font-size="10.5" text-anchor="end" fill="#595959">4%</text>
<line x1="69.80" y1="320.25" x2="321.40" y2="320.25" stroke="#d9d9d9" stroke-width="1" />
<text x="58.90" y="323.85" font-size="10.5" text-anchor="end" fill="#595959">5%</text>
<line x1="69.80" y1="301.58" x2="321.40" y2="301.58" stroke="#d9d9d9" stroke-width="1" />
<text x="58.90" y="305.18" font-size="10.5" text-anchor="end" fill="#595959">6%</text>
<rect x="79.90" y="359.08" width="10.20" height="54.52" fill="#000"/>
<line x1="85.00" y1="357.03" x2="85.00" y2="359.08" stroke="#000" stroke-width="1" />
<line x1="82.00" y1="357.03" x2="88.00" y2="357.03" stroke="#000" stroke-width="1" />
<rect x="91.90" y="412.63" width="10.20" height="0.97" fill="#fff" stroke="#888" stroke-width="0.5"/>
<rect x="121.83" y="339.67" width="10.20" height="73.93" fill="#000"/>
<line x1="126.93" y1="328.28" x2="126.93" y2="339.67" stroke="#000" stroke-width="1" />
<line x1="123.93" y1="328.28" x2="129.93" y2="328.28" stroke="#000" stroke-width="1" />
<rect x="133.83" y="412.63" width="10.20" height="0.97" fill="#fff" stroke="#888" stroke-width="0.5"/>
<rect x="163.77" y="328.09" width="10.20" height="85.51" fill="#000"/>
<line x1="168.87" y1="316.70" x2="168.87" y2="328.09" stroke="#000" stroke-width="1" />
<line x1="165.87" y1="316.70" x2="171.87" y2="316.70" stroke="#000" stroke-width="1" />
<rect x="175.77" y="412.63" width="10.20" height="0.97" fill="#fff" stroke="#888" stroke-width="0.5"/>
<rect x="205.70" y="402.96" width="10.20" height="10.64" fill="#000"/>
<line x1="210.80" y1="400.34" x2="210.80" y2="402.96" stroke="#000" stroke-width="1" />
<line x1="207.80" y1="400.34" x2="213.80" y2="400.34" stroke="#000" stroke-width="1" />
<rect x="217.70" y="412.63" width="10.20" height="0.97" fill="#fff" stroke="#888" stroke-width="0.5"/>
<rect x="247.63" y="335.00" width="10.20" height="78.60" fill="#000"/>
<line x1="252.73" y1="331.45" x2="252.73" y2="335.00" stroke="#000" stroke-width="1" />
<line x1="249.73" y1="331.45" x2="255.73" y2="331.45" stroke="#000" stroke-width="1" />
<rect x="259.63" y="412.63" width="10.20" height="0.97" fill="#fff" stroke="#888" stroke-width="0.5"/>
<rect x="289.57" y="410.80" width="10.20" height="2.80" fill="#000"/>
<line x1="294.67" y1="409.87" x2="294.67" y2="410.80" stroke="#000" stroke-width="1" />
<line x1="291.67" y1="409.87" x2="297.67" y2="409.87" stroke="#000" stroke-width="1" />
<rect x="301.57" y="412.63" width="10.20" height="0.97" fill="#fff" stroke="#888" stroke-width="0.5"/>
<text x="31.90" y="351.70" font-size="9.2" text-anchor="middle" transform="rotate(-90 31.90 351.70)" textLength="41.5" lengthAdjust="spacingAndGlyphs">% of input</text>
<rect x="142.00" y="483.20" width="9.80" height="9.80" fill="#000"/>
<text x="155.60" y="491.80" font-size="9">m<tspan dy="-3.2" font-size="6.8">6</tspan><tspan dy="3.2">A IP</tspan></text>
<rect x="218.60" y="483.60" width="9.60" height="9.00" fill="#fff" stroke="#888" stroke-width="0.8"/>
<text x="233.20" y="491.80" font-size="9" textLength="14.4" lengthAdjust="spacingAndGlyphs">IgG</text>
<text x="147.00" y="293" font-size="12" font-weight="bold">m<tspan dy="-4.2" font-size="8.2">6</tspan><tspan dy="4.2">A CLIP in RD</tspan></text>
<line x1="409.00" y1="413.00" x2="657.30" y2="413.00" stroke="#d9d9d9" stroke-width="1" />
<text x="398.00" y="416.60" font-size="10.5" text-anchor="end" fill="#595959">0%</text>
<line x1="409.00" y1="394.37" x2="657.30" y2="394.37" stroke="#d9d9d9" stroke-width="1" />
<text x="398.00" y="397.97" font-size="10.5" text-anchor="end" fill="#595959">5%</text>
<line x1="409.00" y1="375.74" x2="657.30" y2="375.74" stroke="#d9d9d9" stroke-width="1" />
<text x="398.00" y="379.34" font-size="10.5" text-anchor="end" fill="#595959">10%</text>
<line x1="409.00" y1="357.11" x2="657.30" y2="357.11" stroke="#d9d9d9" stroke-width="1" />
<text x="398.00" y="360.71" font-size="10.5" text-anchor="end" fill="#595959">15%</text>
<line x1="409.00" y1="338.48" x2="657.30" y2="338.48" stroke="#d9d9d9" stroke-width="1" />
<text x="398.00" y="342.08" font-size="10.5" text-anchor="end" fill="#595959">20%</text>
<line x1="409.00" y1="319.85" x2="657.30" y2="319.85" stroke="#d9d9d9" stroke-width="1" />
<text x="398.00" y="323.45" font-size="10.5" text-anchor="end" fill="#595959">25%</text>
<line x1="409.00" y1="301.22" x2="657.30" y2="301.22" stroke="#d9d9d9" stroke-width="1" />
<text x="398.00" y="304.82" font-size="10.5" text-anchor="end" fill="#595959">30%</text>
<rect x="419.10" y="331.03" width="10.20" height="81.97" fill="#000"/>
<line x1="424.20" y1="323.20" x2="424.20" y2="331.03" stroke="#000" stroke-width="1" />
<line x1="421.20" y1="323.20" x2="427.20" y2="323.20" stroke="#000" stroke-width="1" />
<rect x="431.10" y="412.03" width="10.20" height="0.97" fill="#fff" stroke="#888" stroke-width="0.5"/>
<rect x="460.48" y="316.12" width="10.20" height="96.88" fill="#000"/>
<line x1="465.58" y1="313.52" x2="465.58" y2="316.12" stroke="#000" stroke-width="1" />
<line x1="462.58" y1="313.52" x2="468.58" y2="313.52" stroke="#000" stroke-width="1" />
<rect x="472.48" y="412.03" width="10.20" height="0.97" fill="#fff" stroke="#888" stroke-width="0.5"/>
<rect x="501.87" y="338.48" width="10.20" height="74.52" fill="#000"/>
<line x1="506.97" y1="338.11" x2="506.97" y2="338.48" stroke="#000" stroke-width="1" />
<line x1="503.97" y1="338.11" x2="509.97" y2="338.11" stroke="#000" stroke-width="1" />
<rect x="513.87" y="412.03" width="10.20" height="0.97" fill="#fff" stroke="#888" stroke-width="0.5"/>
<rect x="543.25" y="327.30" width="10.20" height="85.70" fill="#000"/>
<line x1="548.35" y1="323.20" x2="548.35" y2="327.30" stroke="#000" stroke-width="1" />
<line x1="545.35" y1="323.20" x2="551.35" y2="323.20" stroke="#000" stroke-width="1" />
<rect x="555.25" y="412.03" width="10.20" height="0.97" fill="#fff" stroke="#888" stroke-width="0.5"/>
<rect x="584.63" y="327.30" width="10.20" height="85.70" fill="#000"/>
<line x1="589.73" y1="323.95" x2="589.73" y2="327.30" stroke="#000" stroke-width="1" />
<line x1="586.73" y1="323.95" x2="592.73" y2="323.95" stroke="#000" stroke-width="1" />
<rect x="596.63" y="412.03" width="10.20" height="0.97" fill="#fff" stroke="#888" stroke-width="0.5"/>
<rect x="626.02" y="412.81" width="10.20" height="0.19" fill="#000"/>
<rect x="638.02" y="412.21" width="10.20" height="0.79" fill="#fff" stroke="#888" stroke-width="0.5"/>
<text x="363.70" y="351.30" font-size="9.2" text-anchor="middle" transform="rotate(-90 363.70 351.30)" textLength="42.7" lengthAdjust="spacingAndGlyphs">% of input</text>
<rect x="477.80" y="484.00" width="9.80" height="9.80" fill="#000"/>
<text x="491.40" y="492.60" font-size="9">m<tspan dy="-3.2" font-size="6.8">6</tspan><tspan dy="3.2">A IP</tspan></text>
<rect x="554.70" y="484.40" width="9.60" height="9.00" fill="#fff" stroke="#888" stroke-width="0.8"/>
<text x="569.30" y="492.60" font-size="9" textLength="14.4" lengthAdjust="spacingAndGlyphs">IgG</text>
<text x="478.20" y="293" font-size="12" font-weight="bold">m<tspan dy="-4.2" font-size="8.2">6</tspan><tspan dy="4.2">A CLIP in RH4</tspan></text>
<line x1="74.60" y1="658.50" x2="329.10" y2="658.50" stroke="#d9d9d9" stroke-width="1" />
<text x="63.00" y="662.10" font-size="10.5" text-anchor="end" fill="#595959">0%</text>
<line x1="74.60" y1="620.30" x2="329.10" y2="620.30" stroke="#d9d9d9" stroke-width="1" />
<text x="63.00" y="623.90" font-size="10.5" text-anchor="end" fill="#595959">5%</text>
<line x1="74.60" y1="582.10" x2="329.10" y2="582.10" stroke="#d9d9d9" stroke-width="1" />
<text x="63.00" y="585.70" font-size="10.5" text-anchor="end" fill="#595959">10%</text>
<line x1="74.60" y1="543.90" x2="329.10" y2="543.90" stroke="#d9d9d9" stroke-width="1" />
<text x="63.00" y="547.50" font-size="10.5" text-anchor="end" fill="#595959">15%</text>
<rect x="80.20" y="643.98" width="6.80" height="14.52" fill="#000"/>
<rect x="87.80" y="657.70" width="6.60" height="0.80" fill="#fff" stroke="#777" stroke-width="0.5"/>
<text x="87.32" y="679.20" font-size="10.8" text-anchor="middle">circ</text>
<rect x="105.65" y="581.34" width="6.80" height="77.16" fill="#000"/>
<line x1="109.05" y1="579.04" x2="109.05" y2="581.34" stroke="#000" stroke-width="1" />
<line x1="106.55" y1="579.04" x2="111.55" y2="579.04" stroke="#000" stroke-width="1" />
<rect x="113.25" y="657.70" width="6.60" height="0.80" fill="#fff" stroke="#777" stroke-width="0.5"/>
<text x="112.78" y="679.20" font-size="10.8" text-anchor="middle">pre</text>
<rect x="131.10" y="653.92" width="6.80" height="4.58" fill="#000"/>
<rect x="138.70" y="657.70" width="6.60" height="0.80" fill="#fff" stroke="#777" stroke-width="0.5"/>
<text x="138.22" y="679.20" font-size="10.8" text-anchor="middle">circ</text>
<rect x="156.55" y="587.68" width="6.80" height="70.82" fill="#000"/>
<line x1="159.95" y1="582.10" x2="159.95" y2="587.68" stroke="#000" stroke-width="1" />
<line x1="157.45" y1="582.10" x2="162.45" y2="582.10" stroke="#000" stroke-width="1" />
<rect x="164.15" y="657.35" width="6.60" height="1.15" fill="#fff" stroke="#777" stroke-width="0.5"/>
<text x="163.68" y="679.20" font-size="10.8" text-anchor="middle">pre</text>
<rect x="182.00" y="653.30" width="6.80" height="5.20" fill="#000"/>
<rect x="189.60" y="657.70" width="6.60" height="0.80" fill="#fff" stroke="#777" stroke-width="0.5"/>
<text x="189.12" y="679.20" font-size="10.8" text-anchor="middle">circ</text>
<rect x="207.45" y="563.00" width="6.80" height="95.50" fill="#000"/>
<line x1="210.85" y1="557.65" x2="210.85" y2="563.00" stroke="#000" stroke-width="1" />
<line x1="208.35" y1="557.65" x2="213.35" y2="557.65" stroke="#000" stroke-width="1" />
<rect x="215.05" y="657.35" width="6.60" height="1.15" fill="#fff" stroke="#777" stroke-width="0.5"/>
<text x="214.58" y="679.20" font-size="10.8" text-anchor="middle">pre</text>
<rect x="240.50" y="657.70" width="6.60" height="0.80" fill="#fff" stroke="#777" stroke-width="0.5"/>
<text x="240.03" y="679.20" font-size="10.8" text-anchor="middle">circ</text>
<rect x="258.35" y="567.58" width="6.80" height="90.92" fill="#000"/>
<line x1="261.75" y1="558.42" x2="261.75" y2="567.58" stroke="#000" stroke-width="1" />
<line x1="259.25" y1="558.42" x2="264.25" y2="558.42" stroke="#000" stroke-width="1" />
<rect x="265.95" y="657.35" width="6.60" height="1.15" fill="#fff" stroke="#777" stroke-width="0.5"/>
<text x="265.48" y="679.20" font-size="10.8" text-anchor="middle">pre</text>
<rect x="283.80" y="652.69" width="6.80" height="5.81" fill="#000"/>
<rect x="291.40" y="657.70" width="6.60" height="0.80" fill="#fff" stroke="#777" stroke-width="0.5"/>
<text x="290.93" y="679.20" font-size="10.8" text-anchor="middle">circ</text>
<rect x="316.85" y="657.70" width="6.60" height="0.80" fill="#fff" stroke="#777" stroke-width="0.5"/>
<text x="316.38" y="679.20" font-size="10.8" text-anchor="middle">circ</text>
<line x1="77.60" y1="686.20" x2="95.20" y2="686.20" stroke="#000" stroke-width="1" />
<line x1="106.50" y1="686.20" x2="142.60" y2="686.20" stroke="#000" stroke-width="1" />
<line x1="158.10" y1="686.20" x2="194.60" y2="686.20" stroke="#000" stroke-width="1" />
<line x1="208.70" y1="686.20" x2="244.80" y2="686.20" stroke="#000" stroke-width="1" />
<line x1="260.10" y1="686.20" x2="297.30" y2="686.20" stroke="#000" stroke-width="1" />
<line x1="308.30" y1="686.20" x2="325.80" y2="686.20" stroke="#000" stroke-width="1" />
<text x="143.00" y="534.30" font-size="12" font-weight="bold" textLength="78.4" lengthAdjust="spacingAndGlyphs">YTHDC1 CLIP</text>
<text x="31.70" y="593.80" font-size="9.2" text-anchor="middle" transform="rotate(-90 31.70 593.80)" textLength="40" lengthAdjust="spacingAndGlyphs">% of input</text>
<rect x="143.50" y="732.00" width="9.80" height="9.80" fill="#000"/>
<text x="156.70" y="740.60" font-size="9" textLength="46.5" lengthAdjust="spacingAndGlyphs">YTHDC1 IP</text>
<rect x="220.30" y="732.40" width="9.60" height="9.00" fill="#fff" stroke="#888" stroke-width="0.8"/>
<text x="234.50" y="740.60" font-size="9" textLength="14.4" lengthAdjust="spacingAndGlyphs">IgG</text>
<line x1="413.70" y1="658.50" x2="664.80" y2="658.50" stroke="#d9d9d9" stroke-width="1" />
<text x="401.50" y="662.10" font-size="10.5" text-anchor="end" fill="#595959">0,0%</text>
<line x1="413.70" y1="635.50" x2="664.80" y2="635.50" stroke="#d9d9d9" stroke-width="1" />
<text x="401.50" y="639.10" font-size="10.5" text-anchor="end" fill="#595959">0,5%</text>
<line x1="413.70" y1="612.50" x2="664.80" y2="612.50" stroke="#d9d9d9" stroke-width="1" />
<text x="401.50" y="616.10" font-size="10.5" text-anchor="end" fill="#595959">1,0%</text>
<line x1="413.70" y1="589.50" x2="664.80" y2="589.50" stroke="#d9d9d9" stroke-width="1" />
<text x="401.50" y="593.10" font-size="10.5" text-anchor="end" fill="#595959">1,5%</text>
<line x1="413.70" y1="566.50" x2="664.80" y2="566.50" stroke="#d9d9d9" stroke-width="1" />
<text x="401.50" y="570.10" font-size="10.5" text-anchor="end" fill="#595959">2,0%</text>
<line x1="413.70" y1="543.50" x2="664.80" y2="543.50" stroke="#d9d9d9" stroke-width="1" />
<text x="401.50" y="547.10" font-size="10.5" text-anchor="end" fill="#595959">2,5%</text>
<rect x="419.30" y="575.70" width="6.80" height="82.80" fill="#000"/>
<line x1="422.70" y1="572.02" x2="422.70" y2="575.70" stroke="#000" stroke-width="1" />
<line x1="420.20" y1="572.02" x2="425.20" y2="572.02" stroke="#000" stroke-width="1" />
<rect x="426.90" y="657.12" width="6.60" height="1.38" fill="#fff" stroke="#777" stroke-width="0.5"/>
<text x="426.25" y="679.20" font-size="10.8" text-anchor="middle">lin</text>
<rect x="444.41" y="587.20" width="6.80" height="71.30" fill="#000"/>
<line x1="447.81" y1="576.62" x2="447.81" y2="587.20" stroke="#000" stroke-width="1" />
<line x1="445.31" y1="576.62" x2="450.31" y2="576.62" stroke="#000" stroke-width="1" />
<rect x="452.01" y="657.12" width="6.60" height="1.38" fill="#fff" stroke="#777" stroke-width="0.5"/>
<text x="451.37" y="679.20" font-size="10.8" text-anchor="middle">pre</text>
<rect x="469.52" y="648.38" width="6.80" height="10.12" fill="#000"/>
<line x1="472.92" y1="647.46" x2="472.92" y2="648.38" stroke="#000" stroke-width="1" />
<line x1="470.42" y1="647.46" x2="475.42" y2="647.46" stroke="#000" stroke-width="1" />
<rect x="477.12" y="657.70" width="6.60" height="0.80" fill="#fff" stroke="#777" stroke-width="0.5"/>
<text x="476.47" y="679.20" font-size="10.8" text-anchor="middle">circ</text>
<rect x="494.63" y="596.86" width="6.80" height="61.64" fill="#000"/>
<line x1="498.03" y1="594.10" x2="498.03" y2="596.86" stroke="#000" stroke-width="1" />
<line x1="495.53" y1="594.10" x2="500.53" y2="594.10" stroke="#000" stroke-width="1" />
<rect x="502.23" y="656.20" width="6.60" height="2.30" fill="#fff" stroke="#777" stroke-width="0.5"/>
<text x="501.58" y="679.20" font-size="10.8" text-anchor="middle">pre</text>
<rect x="519.74" y="648.84" width="6.80" height="9.66" fill="#000"/>
<line x1="523.14" y1="647.46" x2="523.14" y2="648.84" stroke="#000" stroke-width="1" />
<line x1="520.64" y1="647.46" x2="525.64" y2="647.46" stroke="#000" stroke-width="1" />
<rect x="527.34" y="656.20" width="6.60" height="2.30" fill="#fff" stroke="#777" stroke-width="0.5"/>
<text x="526.69" y="679.20" font-size="10.8" text-anchor="middle">circ</text>
<rect x="544.85" y="558.68" width="6.80" height="99.82" fill="#000"/>
<line x1="548.25" y1="551.32" x2="548.25" y2="558.68" stroke="#000" stroke-width="1" />
<line x1="545.75" y1="551.32" x2="550.75" y2="551.32" stroke="#000" stroke-width="1" />
<rect x="552.45" y="657.58" width="6.60" height="0.92" fill="#fff" stroke="#777" stroke-width="0.5"/>
<text x="551.80" y="679.20" font-size="10.8" text-anchor="middle">pre</text>
<rect x="569.96" y="650.68" width="6.80" height="7.82" fill="#000"/>
<rect x="577.56" y="657.70" width="6.60" height="0.80" fill="#fff" stroke="#777" stroke-width="0.5"/>
<text x="576.91" y="679.20" font-size="10.8" text-anchor="middle">circ</text>
<rect x="595.07" y="563.28" width="6.80" height="95.22" fill="#000"/>
<line x1="598.47" y1="554.08" x2="598.47" y2="563.28" stroke="#000" stroke-width="1" />
<line x1="595.97" y1="554.08" x2="600.97" y2="554.08" stroke="#000" stroke-width="1" />
<rect x="602.67" y="657.12" width="6.60" height="1.38" fill="#fff" stroke="#777" stroke-width="0.5"/>
<text x="602.02" y="679.20" font-size="10.8" text-anchor="middle">pre</text>
<rect x="620.18" y="647.92" width="6.80" height="10.58" fill="#000"/>
<rect x="627.78" y="657.70" width="6.60" height="0.80" fill="#fff" stroke="#777" stroke-width="0.5"/>
<text x="627.13" y="679.20" font-size="10.8" text-anchor="middle">circ</text>
<rect x="645.29" y="651.60" width="6.80" height="6.90" fill="#000"/>
<rect x="652.89" y="657.70" width="6.60" height="0.80" fill="#fff" stroke="#777" stroke-width="0.5"/>
<text x="652.24" y="679.20" font-size="10.8" text-anchor="middle">circ</text>
<line x1="416.90" y1="686.20" x2="434.00" y2="686.20" stroke="#000" stroke-width="1" />
<line x1="445.50" y1="686.20" x2="482.30" y2="686.20" stroke="#000" stroke-width="1" />
<line x1="496.00" y1="686.20" x2="532.70" y2="686.20" stroke="#000" stroke-width="1" />
<line x1="546.10" y1="686.20" x2="582.50" y2="686.20" stroke="#000" stroke-width="1" />
<line x1="596.20" y1="686.20" x2="633.00" y2="686.20" stroke="#000" stroke-width="1" />
<line x1="644.20" y1="686.20" x2="662.20" y2="686.20" stroke="#000" stroke-width="1" />
<text x="497.50" y="534.30" font-size="12" font-weight="bold" textLength="57.5" lengthAdjust="spacingAndGlyphs">DDX5 CLIP</text>
<text x="363.70" y="593.00" font-size="9.2" text-anchor="middle" transform="rotate(-90 363.70 593.00)" textLength="40" lengthAdjust="spacingAndGlyphs">% of input</text>
<rect x="479.70" y="732.60" width="9.80" height="9.40" fill="#000"/>
<text x="492.90" y="740.80" font-size="9" textLength="36" lengthAdjust="spacingAndGlyphs">DDX5 IP</text>
<rect x="555.80" y="733.00" width="9.60" height="8.60" fill="#fff" stroke="#888" stroke-width="0.8"/>
<text x="570.00" y="740.80" font-size="9" textLength="14.4" lengthAdjust="spacingAndGlyphs">IgG</text>
<text x="53.90" y="789.00" font-size="10" textLength="37.50000000000001" lengthAdjust="spacingAndGlyphs">external</text>
<text x="121.40" y="789.00" font-size="10" textLength="35.69999999999999" lengthAdjust="spacingAndGlyphs">internal</text>
<text x="204.70" y="789.00" font-size="10" textLength="34.60000000000002" lengthAdjust="spacingAndGlyphs">internal</text>
<text x="268.80" y="789.00" font-size="10" textLength="38.099999999999966" lengthAdjust="spacingAndGlyphs">external</text>
<text x="19.70" y="806.00" font-size="9" textLength="20.3" lengthAdjust="spacingAndGlyphs">repl1</text>
<text x="19.70" y="819.60" font-size="9" textLength="20.3" lengthAdjust="spacingAndGlyphs">repl2</text>
<text x="19.70" y="832.80" font-size="9" textLength="20.3" lengthAdjust="spacingAndGlyphs">repl3</text>
<rect x="43.30" y="798.30" width="128.10" height="37.30" fill="#dedede"/>
<rect x="100.80" y="798.30" width="2.10" height="12.00" fill="#f6ac9c"/>
<rect x="102.90" y="798.30" width="4.00" height="12.00" fill="#ff5a50"/>
<rect x="107.60" y="798.30" width="4.90" height="12.00" fill="#ff6a5a"/>
<rect x="109.50" y="798.30" width="1.00" height="12.00" fill="#ff8c7c"/>
<rect x="112.50" y="798.30" width="5.30" height="12.00" fill="#ff7a6a"/>
<rect x="117.80" y="798.30" width="4.20" height="12.00" fill="#ff5e4e"/>
<rect x="122.00" y="798.30" width="3.80" height="12.00" fill="#ff4444"/>
<rect x="125.80" y="798.30" width="4.20" height="12.00" fill="#ff8a7a"/>
<rect x="130.00" y="798.30" width="7.00" height="12.00" fill="#ff4a48"/>
<rect x="137.00" y="798.30" width="4.10" height="12.00" fill="#ff6a5a"/>
<rect x="141.10" y="798.30" width="4.70" height="12.00" fill="#ff8272"/>
<rect x="97.30" y="810.30" width="1.80" height="12.40" fill="#f2a4a4"/>
<rect x="99.70" y="810.30" width="1.40" height="12.40" fill="#ff4444"/>
<rect x="106.10" y="810.30" width="1.50" height="12.40" fill="#f8b2a2"/>
<rect x="107.60" y="810.30" width="10.20" height="12.40" fill="#ffa494"/>
<rect x="111.50" y="810.30" width="1.50" height="12.40" fill="#ff9484"/>
<rect x="117.80" y="810.30" width="7.60" height="12.40" fill="#ff9282"/>
<rect x="125.40" y="810.30" width="6.10" height="12.40" fill="#ff7666"/>
<rect x="131.50" y="810.30" width="3.80" height="12.40" fill="#ff5a50"/>
<rect x="100.30" y="822.70" width="1.70" height="12.90" fill="#f8c2b2"/>
<rect x="102.60" y="822.70" width="2.90" height="12.90" fill="#f8cabb"/>
<rect x="107.30" y="822.70" width="4.10" height="12.90" fill="#f8cabb"/>
<rect x="120.10" y="822.70" width="13.40" height="12.90" fill="#f8bcac"/>
<rect x="135.30" y="822.70" width="3.50" height="12.90" fill="#f8bcac"/>
<line x1="44.80" y1="798.3" x2="44.80" y2="835.6" stroke="#ffffff" stroke-opacity="0.38" stroke-width="0.6"/>
<line x1="47.10" y1="798.3" x2="47.10" y2="835.6" stroke="#ffffff" stroke-opacity="0.38" stroke-width="0.6"/>
<line x1="50.20" y1="798.3" x2="50.20" y2="835.6" stroke="#ffffff" stroke-opacity="0.38" stroke-width="0.6"/>
<line x1="53.30" y1="798.3" x2="53.30" y2="835.6" stroke="#ffffff" stroke-opacity="0.38" stroke-width="0.6"/>
<line x1="55.60" y1="798.3" x2="55.60" y2="835.6" stroke="#ffffff" stroke-opacity="0.38" stroke-width="0.6"/>
<line x1="58.70" y1="798.3" x2="58.70" y2="835.6" stroke="#ffffff" stroke-opacity="0.38" stroke-width="0.6"/>
<line x1="61.80" y1="798.3" x2="61.80" y2="835.6" stroke="#ffffff" stroke-opacity="0.38" stroke-width="0.6"/>
<line x1="64.10" y1="798.3" x2="64.10" y2="835.6" stroke="#ffffff" stroke-opacity="0.38" stroke-width="0.6"/>
<line x1="67.20" y1="798.3" x2="67.20" y2="835.6" stroke="#ffffff" stroke-opacity="0.38" stroke-width="0.6"/>
<line x1="70.30" y1="798.3" x2="70.30" y2="835.6" stroke="#ffffff" stroke-opacity="0.38" stroke-width="0.6"/>
<line x1="72.60" y1="798.3" x2="72.60" y2="835.6" stroke="#ffffff" stroke-opacity="0.38" stroke-width="0.6"/>
<line x1="75.70" y1="798.3" x2="75.70" y2="835.6" stroke="#ffffff" stroke-opacity="0.38" stroke-width="0.6"/>
<line x1="78.80" y1="798.3" x2="78.80" y2="835.6" stroke="#ffffff" stroke-opacity="0.38" stroke-width="0.6"/>
<line x1="81.10" y1="798.3" x2="81.10" y2="835.6" stroke="#ffffff" stroke-opacity="0.38" stroke-width="0.6"/>
<line x1="84.20" y1="798.3" x2="84.20" y2="835.6" stroke="#ffffff" stroke-opacity="0.38" stroke-width="0.6"/>
<line x1="87.30" y1="798.3" x2="87.30" y2="835.6" stroke="#ffffff" stroke-opacity="0.38" stroke-width="0.6"/>
<line x1="89.60" y1="798.3" x2="89.60" y2="835.6" stroke="#ffffff" stroke-opacity="0.38" stroke-width="0.6"/>
<line x1="92.70" y1="798.3" x2="92.70" y2="835.6" stroke="#ffffff" stroke-opacity="0.38" stroke-width="0.6"/>
<line x1="95.80" y1="798.3" x2="95.80" y2="835.6" stroke="#ffffff" stroke-opacity="0.38" stroke-width="0.6"/>
<line x1="98.10" y1="798.3" x2="98.10" y2="835.6" stroke="#ffffff" stroke-opacity="0.38" stroke-width="0.6"/>
<line x1="101.20" y1="798.3" x2="101.20" y2="835.6" stroke="#ffffff" stroke-opacity="0.38" stroke-width="0.6"/>
<line x1="104.30" y1="798.3" x2="104.30" y2="835.6" stroke="#ffffff" stroke-opacity="0.38" stroke-width="0.6"/>
<line x1="106.60" y1="798.3" x2="106.60" y2="835.6" stroke="#ffffff" stroke-opacity="0.38" stroke-width="0.6"/>
<line x1="109.70" y1="798.3" x2="109.70" y2="835.6" stroke="#ffffff" stroke-opacity="0.38" stroke-width="0.6"/>
<line x1="112.80" y1="798.3" x2="112.80" y2="835.6" stroke="#ffffff" stroke-opacity="0.38" stroke-width="0.6"/>
<line x1="115.10" y1="798.3" x2="115.10" y2="835.6" stroke="#ffffff" stroke-opacity="0.38" stroke-width="0.6"/>
<line x1="118.20" y1="798.3" x2="118.20" y2="835.6" stroke="#ffffff" stroke-opacity="0.38" stroke-width="0.6"/>
<line x1="121.30" y1="798.3" x2="121.30" y2="835.6" stroke="#ffffff" stroke-opacity="0.38" stroke-width="0.6"/>
<line x1="123.60" y1="798.3" x2="123.60" y2="835.6" stroke="#ffffff" stroke-opacity="0.38" stroke-width="0.6"/>
<line x1="126.70" y1="798.3" x2="126.70" y2="835.6" stroke="#ffffff" stroke-opacity="0.38" stroke-width="0.6"/>
<line x1="129.80" y1="798.3" x2="129.80" y2="835.6" stroke="#ffffff" stroke-opacity="0.38" stroke-width="0.6"/>
<line x1="132.10" y1="798.3" x2="132.10" y2="835.6" stroke="#ffffff" stroke-opacity="0.38" stroke-width="0.6"/>
<line x1="135.20" y1="798.3" x2="135.20" y2="835.6" stroke="#ffffff" stroke-opacity="0.38" stroke-width="0.6"/>
<line x1="138.30" y1="798.3" x2="138.30" y2="835.6" stroke="#ffffff" stroke-opacity="0.38" stroke-width="0.6"/>
<line x1="140.60" y1="798.3" x2="140.60" y2="835.6" stroke="#ffffff" stroke-opacity="0.38" stroke-width="0.6"/>
<line x1="143.70" y1="798.3" x2="143.70" y2="835.6" stroke="#ffffff" stroke-opacity="0.38" stroke-width="0.6"/>
<line x1="146.80" y1="798.3" x2="146.80" y2="835.6" stroke="#ffffff" stroke-opacity="0.38" stroke-width="0.6"/>
<line x1="149.10" y1="798.3" x2="149.10" y2="835.6" stroke="#ffffff" stroke-opacity="0.38" stroke-width="0.6"/>
<line x1="152.20" y1="798.3" x2="152.20" y2="835.6" stroke="#ffffff" stroke-opacity="0.38" stroke-width="0.6"/>
<line x1="155.30" y1="798.3" x2="155.30" y2="835.6" stroke="#ffffff" stroke-opacity="0.38" stroke-width="0.6"/>
<line x1="157.60" y1="798.3" x2="157.60" y2="835.6" stroke="#ffffff" stroke-opacity="0.38" stroke-width="0.6"/>
<line x1="160.70" y1="798.3" x2="160.70" y2="835.6" stroke="#ffffff" stroke-opacity="0.38" stroke-width="0.6"/>
<line x1="163.80" y1="798.3" x2="163.80" y2="835.6" stroke="#ffffff" stroke-opacity="0.38" stroke-width="0.6"/>
<line x1="166.10" y1="798.3" x2="166.10" y2="835.6" stroke="#ffffff" stroke-opacity="0.38" stroke-width="0.6"/>
<line x1="169.20" y1="798.3" x2="169.20" y2="835.6" stroke="#ffffff" stroke-opacity="0.38" stroke-width="0.6"/>
<line x1="43.30" y1="810.30" x2="171.40" y2="810.30" stroke="#eeeeee" stroke-width="0.8" />
<line x1="43.30" y1="822.70" x2="171.40" y2="822.70" stroke="#eeeeee" stroke-width="0.8" />
<line x1="107.40" y1="798.30" x2="107.40" y2="835.60" stroke="#505050" stroke-width="0.85" />
<rect x="43.30" y="798.30" width="128.10" height="37.30" fill="none" stroke="#b0b0b0" stroke-width="0.9"/>
<line x1="43.30" y1="836.00" x2="171.40" y2="836.00" stroke="#b4b4b4" stroke-width="1.2" />
<line x1="171.40" y1="804.30" x2="172.60" y2="804.30" stroke="#999" stroke-width="0.8" />
<line x1="171.40" y1="816.50" x2="172.60" y2="816.50" stroke="#999" stroke-width="0.8" />
<line x1="171.40" y1="829.15" x2="172.60" y2="829.15" stroke="#999" stroke-width="0.8" />
<rect x="188.20" y="798.30" width="129.60" height="37.30" fill="#dedede"/>
<rect x="254.70" y="798.30" width="2.00" height="12.00" fill="#f2cac2"/>
<rect x="254.00" y="810.30" width="2.00" height="12.40" fill="#f8b2a2"/>
<rect x="257.30" y="810.30" width="1.10" height="12.40" fill="#f4d2ca"/>
<rect x="259.70" y="810.30" width="2.20" height="12.40" fill="#ff7262"/>
<rect x="284.90" y="810.30" width="3.10" height="12.40" fill="#ff4848"/>
<rect x="316.90" y="810.30" width="1.10" height="12.40" fill="#ff4848"/>
<rect x="241.80" y="822.70" width="1.10" height="12.90" fill="#f4c4b4"/>
<rect x="243.90" y="822.70" width="1.00" height="12.90" fill="#f4cabc"/>
<rect x="246.80" y="822.70" width="3.70" height="12.90" fill="#f6d2c4"/>
<rect x="253.70" y="822.70" width="2.30" height="12.90" fill="#f8c2b2"/>
<rect x="260.60" y="822.70" width="3.00" height="12.90" fill="#ff9282"/>
<line x1="189.70" y1="798.3" x2="189.70" y2="835.6" stroke="#ffffff" stroke-opacity="0.38" stroke-width="0.6"/>
<line x1="192.00" y1="798.3" x2="192.00" y2="835.6" stroke="#ffffff" stroke-opacity="0.38" stroke-width="0.6"/>
<line x1="195.10" y1="798.3" x2="195.10" y2="835.6" stroke="#ffffff" stroke-opacity="0.38" stroke-width="0.6"/>
<line x1="198.20" y1="798.3" x2="198.20" y2="835.6" stroke="#ffffff" stroke-opacity="0.38" stroke-width="0.6"/>
<line x1="200.50" y1="798.3" x2="200.50" y2="835.6" stroke="#ffffff" stroke-opacity="0.38" stroke-width="0.6"/>
<line x1="203.60" y1="798.3" x2="203.60" y2="835.6" stroke="#ffffff" stroke-opacity="0.38" stroke-width="0.6"/>
<line x1="206.70" y1="798.3" x2="206.70" y2="835.6" stroke="#ffffff" stroke-opacity="0.38" stroke-width="0.6"/>
<line x1="209.00" y1="798.3" x2="209.00" y2="835.6" stroke="#ffffff" stroke-opacity="0.38" stroke-width="0.6"/>
<line x1="212.10" y1="798.3" x2="212.10" y2="835.6" stroke="#ffffff" stroke-opacity="0.38" stroke-width="0.6"/>
<line x1="215.20" y1="798.3" x2="215.20" y2="835.6" stroke="#ffffff" stroke-opacity="0.38" stroke-width="0.6"/>
<line x1="217.50" y1="798.3" x2="217.50" y2="835.6" stroke="#ffffff" stroke-opacity="0.38" stroke-width="0.6"/>
<line x1="220.60" y1="798.3" x2="220.60" y2="835.6" stroke="#ffffff" stroke-opacity="0.38" stroke-width="0.6"/>
<line x1="223.70" y1="798.3" x2="223.70" y2="835.6" stroke="#ffffff" stroke-opacity="0.38" stroke-width="0.6"/>
<line x1="226.00" y1="798.3" x2="226.00" y2="835.6" stroke="#ffffff" stroke-opacity="0.38" stroke-width="0.6"/>
<line x1="229.10" y1="798.3" x2="229.10" y2="835.6" stroke="#ffffff" stroke-opacity="0.38" stroke-width="0.6"/>
<line x1="232.20" y1="798.3" x2="232.20" y2="835.6" stroke="#ffffff" stroke-opacity="0.38" stroke-width="0.6"/>
<line x1="234.50" y1="798.3" x2="234.50" y2="835.6" stroke="#ffffff" stroke-opacity="0.38" stroke-width="0.6"/>
<line x1="237.60" y1="798.3" x2="237.60" y2="835.6" stroke="#ffffff" stroke-opacity="0.38" stroke-width="0.6"/>
<line x1="240.70" y1="798.3" x2="240.70" y2="835.6" stroke="#ffffff" stroke-opacity="0.38" stroke-width="0.6"/>
<line x1="243.00" y1="798.3" x2="243.00" y2="835.6" stroke="#ffffff" stroke-opacity="0.38" stroke-width="0.6"/>
<line x1="246.10" y1="798.3" x2="246.10" y2="835.6" stroke="#ffffff" stroke-opacity="0.38" stroke-width="0.6"/>
<line x1="249.20" y1="798.3" x2="249.20" y2="835.6" stroke="#ffffff" stroke-opacity="0.38" stroke-width="0.6"/>
<line x1="251.50" y1="798.3" x2="251.50" y2="835.6" stroke="#ffffff" stroke-opacity="0.38" stroke-width="0.6"/>
<line x1="254.60" y1="798.3" x2="254.60" y2="835.6" stroke="#ffffff" stroke-opacity="0.38" stroke-width="0.6"/>
<line x1="257.70" y1="798.3" x2="257.70" y2="835.6" stroke="#ffffff" stroke-opacity="0.38" stroke-width="0.6"/>
<line x1="260.00" y1="798.3" x2="260.00" y2="835.6" stroke="#ffffff" stroke-opacity="0.38" stroke-width="0.6"/>
<line x1="263.10" y1="798.3" x2="263.10" y2="835.6" stroke="#ffffff" stroke-opacity="0.38" stroke-width="0.6"/>
<line x1="266.20" y1="798.3" x2="266.20" y2="835.6" stroke="#ffffff" stroke-opacity="0.38" stroke-width="0.6"/>
<line x1="268.50" y1="798.3" x2="268.50" y2="835.6" stroke="#ffffff" stroke-opacity="0.38" stroke-width="0.6"/>
<line x1="271.60" y1="798.3" x2="271.60" y2="835.6" stroke="#ffffff" stroke-opacity="0.38" stroke-width="0.6"/>
<line x1="274.70" y1="798.3" x2="274.70" y2="835.6" stroke="#ffffff" stroke-opacity="0.38" stroke-width="0.6"/>
<line x1="277.00" y1="798.3" x2="277.00" y2="835.6" stroke="#ffffff" stroke-opacity="0.38" stroke-width="0.6"/>
<line x1="280.10" y1="798.3" x2="280.10" y2="835.6" stroke="#ffffff" stroke-opacity="0.38" stroke-width="0.6"/>
<line x1="283.20" y1="798.3" x2="283.20" y2="835.6" stroke="#ffffff" stroke-opacity="0.38" stroke-width="0.6"/>
<line x1="285.50" y1="798.3" x2="285.50" y2="835.6" stroke="#ffffff" stroke-opacity="0.38" stroke-width="0.6"/>
<line x1="288.60" y1="798.3" x2="288.60" y2="835.6" stroke="#ffffff" stroke-opacity="0.38" stroke-width="0.6"/>
<line x1="291.70" y1="798.3" x2="291.70" y2="835.6" stroke="#ffffff" stroke-opacity="0.38" stroke-width="0.6"/>
<line x1="294.00" y1="798.3" x2="294.00" y2="835.6" stroke="#ffffff" stroke-opacity="0.38" stroke-width="0.6"/>
<line x1="297.10" y1="798.3" x2="297.10" y2="835.6" stroke="#ffffff" stroke-opacity="0.38" stroke-width="0.6"/>
<line x1="300.20" y1="798.3" x2="300.20" y2="835.6" stroke="#ffffff" stroke-opacity="0.38" stroke-width="0.6"/>
<line x1="302.50" y1="798.3" x2="302.50" y2="835.6" stroke="#ffffff" stroke-opacity="0.38" stroke-width="0.6"/>
<line x1="305.60" y1="798.3" x2="305.60" y2="835.6" stroke="#ffffff" stroke-opacity="0.38" stroke-width="0.6"/>
<line x1="308.70" y1="798.3" x2="308.70" y2="835.6" stroke="#ffffff" stroke-opacity="0.38" stroke-width="0.6"/>
<line x1="311.00" y1="798.3" x2="311.00" y2="835.6" stroke="#ffffff" stroke-opacity="0.38" stroke-width="0.6"/>
<line x1="314.10" y1="798.3" x2="314.10" y2="835.6" stroke="#ffffff" stroke-opacity="0.38" stroke-width="0.6"/>
<line x1="317.20" y1="798.3" x2="317.20" y2="835.6" stroke="#ffffff" stroke-opacity="0.38" stroke-width="0.6"/>
<line x1="188.20" y1="810.30" x2="317.80" y2="810.30" stroke="#eeeeee" stroke-width="0.8" />
<line x1="188.20" y1="822.70" x2="317.80" y2="822.70" stroke="#eeeeee" stroke-width="0.8" />
<line x1="252.50" y1="798.30" x2="252.50" y2="835.60" stroke="#505050" stroke-width="0.85" />
<rect x="188.20" y="798.30" width="129.60" height="37.30" fill="none" stroke="#b0b0b0" stroke-width="0.9"/>
<line x1="188.20" y1="836.00" x2="317.80" y2="836.00" stroke="#b4b4b4" stroke-width="1.2" />
<line x1="317.80" y1="804.30" x2="319.00" y2="804.30" stroke="#999" stroke-width="0.8" />
<line x1="317.80" y1="816.50" x2="319.00" y2="816.50" stroke="#999" stroke-width="0.8" />
<line x1="317.80" y1="829.15" x2="319.00" y2="829.15" stroke="#999" stroke-width="0.8" />
<defs><linearGradient id="orgrad" x1="0" y1="0" x2="0" y2="1"><stop offset="0" stop-color="#ff0000"/><stop offset="0.33" stop-color="#f87a68"/><stop offset="0.63" stop-color="#e2dede"/><stop offset="0.8" stop-color="#a890f4"/><stop offset="1" stop-color="#0000ff"/></linearGradient></defs>
<rect x="330.90" y="798.90" width="6.00" height="28.70" fill="url(#orgrad)"/>
<text x="337.60" y="802.00" font-size="5" fill="#333">3</text>
<text x="337.60" y="810.60" font-size="5" fill="#333">2</text>
<text x="337.60" y="819.20" font-size="5" fill="#333">1</text>
<text x="337.60" y="828.10" font-size="5" fill="#333">0</text>
<text x="330.20" y="835.00" font-size="6.4" textLength="9.8" lengthAdjust="spacingAndGlyphs">OR</text>
<rect x="43.40" y="846.60" width="63.80" height="5.80" fill="#fff" stroke="#808080" stroke-width="0.9"/>
<rect x="250.60" y="848.40" width="68.00" height="4.20" fill="#fff" stroke="#808080" stroke-width="0.9"/>
<rect x="107.20" y="841.70" width="143.40" height="15.80" fill="#fff"/>
<rect x="107.20" y="841.70" width="6.60" height="15.80" fill="#dcdcdc"/>
<line x1="113.80" y1="841.70" x2="113.80" y2="857.50" stroke="#999" stroke-width="1" />
<rect x="244.00" y="841.70" width="6.60" height="15.80" fill="#707070"/>
<line x1="107.20" y1="841.00" x2="107.20" y2="858.20" stroke="#808080" stroke-width="1.3" />
<line x1="250.60" y1="841.00" x2="250.60" y2="858.20" stroke="#808080" stroke-width="1.3" />
<line x1="107.20" y1="841.70" x2="170.80" y2="841.70" stroke="#808080" stroke-width="1.3" />
<line x1="188.50" y1="841.70" x2="250.60" y2="841.70" stroke="#808080" stroke-width="1.3" />
<line x1="107.20" y1="857.50" x2="157.30" y2="857.50" stroke="#808080" stroke-width="1.3" />
<line x1="175.50" y1="857.50" x2="250.60" y2="857.50" stroke="#808080" stroke-width="1.3" />
<line x1="171.50" y1="841.70" x2="188.50" y2="841.70" stroke="#cccccc" stroke-width="1" stroke-dasharray="3.5 3"/>
<line x1="158.00" y1="857.50" x2="175.50" y2="857.50" stroke="#cccccc" stroke-width="1" stroke-dasharray="3.5 3"/>
<line x1="158.00" y1="857.50" x2="169.90" y2="841.70" stroke="#c4c4c4" stroke-width="0.9" stroke-dasharray="3.5 3"/>
<line x1="176.60" y1="857.50" x2="187.90" y2="841.70" stroke="#c4c4c4" stroke-width="0.9" stroke-dasharray="3.5 3"/>
<text x="80.40" y="867.80" font-size="10" textLength="21.9" lengthAdjust="spacingAndGlyphs">5’BS</text>
<text x="255.00" y="868.30" font-size="10" textLength="23.7" lengthAdjust="spacingAndGlyphs">3’BS</text>
<line x1="108.90" y1="861.90" x2="183.60" y2="886.90" stroke="#b8b8b8" stroke-width="0.6" />
<line x1="250.90" y1="863.30" x2="183.60" y2="886.90" stroke="#b8b8b8" stroke-width="0.6" />
<path d="M174.05,893.88 A34.7,31.5 0 0 1 183.90,892.50 L184.00,903.60 A23.45,20.4 0 0 0 177.34,904.49 Z" fill="#dcdcdc" stroke="#888" stroke-width="0.9"/>
<path d="M183.90,892.50 A34.7,31.5 0 0 1 195.50,894.22 L191.83,904.71 A23.45,20.4 0 0 0 184.00,903.60 Z" fill="#6e6e6e" stroke="#888" stroke-width="0.9"/>
<path d="M195.50,894.22 A34.7,31.5 0 0 1 198.86,952.55" fill="none" stroke="#888" stroke-width="0.9" />
<path d="M169.54,952.55 A34.7,31.5 0 0 1 174.05,893.88" fill="none" stroke="#888" stroke-width="0.9" />
<path d="M191.83,904.71 A23.45,20.4 0 0 1 194.85,942.18" fill="none" stroke="#888" stroke-width="0.9" />
<path d="M173.55,942.18 A23.45,20.4 0 0 1 177.34,904.49" fill="none" stroke="#888" stroke-width="0.9" />
<path d="M198.86,952.55 A34.7,31.5 0 0 1 169.54,952.55" fill="none" stroke="#c8c8c8" stroke-width="0.9" stroke-dasharray="3.5 3"/>
<path d="M194.85,942.18 A23.45,20.4 0 0 1 173.55,942.18" fill="none" stroke="#c8c8c8" stroke-width="0.9" stroke-dasharray="3.5 3"/>
<line x1="194.85" y1="942.18" x2="198.86" y2="952.55" stroke="#c8c8c8" stroke-width="0.9" stroke-dasharray="2.5 2"/>
<line x1="173.55" y1="942.18" x2="169.54" y2="952.55" stroke="#c8c8c8" stroke-width="0.9" stroke-dasharray="2.5 2"/>
<text x="172.80" y="926.60" font-size="10" textLength="18.7" lengthAdjust="spacingAndGlyphs">BSJ</text>
<text x="455.60" y="782.50" font-size="9.4" font-weight="bold" textLength="54.4" lengthAdjust="spacingAndGlyphs">Energy (ΔG)</text>
<text x="564.50" y="782.50" font-size="9.4" font-weight="bold" textLength="69.1" lengthAdjust="spacingAndGlyphs">GC Content (%)</text>
<rect x="441.50" y="794.70" width="93.00" height="83.80" fill="#fff" stroke="#9a9a9a" stroke-width="0.8"/>
<rect x="556.30" y="794.70" width="95.10" height="83.40" fill="#fff" stroke="#9a9a9a" stroke-width="0.8"/>
<line x1="440.20" y1="796.80" x2="441.50" y2="796.80" stroke="#555" stroke-width="0.5" />
<text x="439.40" y="798.30" font-size="4.3" text-anchor="end">−30</text>
<line x1="440.20" y1="812.70" x2="441.50" y2="812.70" stroke="#555" stroke-width="0.5" />
<text x="439.40" y="814.20" font-size="4.3" text-anchor="end">−31</text>
<line x1="440.20" y1="828.50" x2="441.50" y2="828.50" stroke="#555" stroke-width="0.5" />
<text x="439.40" y="830.00" font-size="4.3" text-anchor="end">−32</text>
<line x1="440.20" y1="843.80" x2="441.50" y2="843.80" stroke="#555" stroke-width="0.5" />
<text x="439.40" y="845.30" font-size="4.3" text-anchor="end">−33</text>
<line x1="440.20" y1="859.70" x2="441.50" y2="859.70" stroke="#555" stroke-width="0.5" />
<text x="439.40" y="861.20" font-size="4.3" text-anchor="end">−34</text>
<line x1="440.20" y1="875.00" x2="441.50" y2="875.00" stroke="#555" stroke-width="0.5" />
<text x="439.40" y="876.50" font-size="4.3" text-anchor="end">−35</text>
<line x1="555.00" y1="797.40" x2="556.30" y2="797.40" stroke="#555" stroke-width="0.5" />
<text x="554.20" y="798.90" font-size="4.3" text-anchor="end">47</text>
<line x1="555.00" y1="810.00" x2="556.30" y2="810.00" stroke="#555" stroke-width="0.5" />
<text x="554.20" y="811.50" font-size="4.3" text-anchor="end">46</text>
<line x1="555.00" y1="822.70" x2="556.30" y2="822.70" stroke="#555" stroke-width="0.5" />
<text x="554.20" y="824.20" font-size="4.3" text-anchor="end">45</text>
<line x1="555.00" y1="835.60" x2="556.30" y2="835.60" stroke="#555" stroke-width="0.5" />
<text x="554.20" y="837.10" font-size="4.3" text-anchor="end">44</text>
<line x1="555.00" y1="848.30" x2="556.30" y2="848.30" stroke="#555" stroke-width="0.5" />
<text x="554.20" y="849.80" font-size="4.3" text-anchor="end">43</text>
<line x1="555.00" y1="860.80" x2="556.30" y2="860.80" stroke="#555" stroke-width="0.5" />
<text x="554.20" y="862.30" font-size="4.3" text-anchor="end">42</text>
<line x1="555.00" y1="873.40" x2="556.30" y2="873.40" stroke="#555" stroke-width="0.5" />
<text x="554.20" y="874.90" font-size="4.3" text-anchor="end">41</text>
<line x1="445.40" y1="878.50" x2="445.40" y2="879.80" stroke="#555" stroke-width="0.5" />
<text x="445.40" y="884.20" font-size="4.3" text-anchor="middle">-250</text>
<line x1="462.30" y1="878.50" x2="462.30" y2="879.80" stroke="#555" stroke-width="0.5" />
<text x="462.30" y="884.20" font-size="4.3" text-anchor="middle">-150</text>
<line x1="479.70" y1="878.50" x2="479.70" y2="879.80" stroke="#555" stroke-width="0.5" />
<text x="479.70" y="884.20" font-size="4.3" text-anchor="middle">-50</text>
<line x1="496.00" y1="878.50" x2="496.00" y2="879.80" stroke="#555" stroke-width="0.5" />
<text x="496.00" y="884.20" font-size="4.3" text-anchor="middle">50</text>
<line x1="513.00" y1="878.50" x2="513.00" y2="879.80" stroke="#555" stroke-width="0.5" />
<text x="513.00" y="884.20" font-size="4.3" text-anchor="middle">150</text>
<line x1="530.20" y1="878.50" x2="530.20" y2="879.80" stroke="#555" stroke-width="0.5" />
<text x="530.20" y="884.20" font-size="4.3" text-anchor="middle">250</text>
<line x1="559.80" y1="878.10" x2="559.80" y2="879.40" stroke="#555" stroke-width="0.5" />
<text x="559.80" y="884.20" font-size="4.3" text-anchor="middle">-250</text>
<line x1="577.80" y1="878.10" x2="577.80" y2="879.40" stroke="#555" stroke-width="0.5" />
<text x="577.80" y="884.20" font-size="4.3" text-anchor="middle">-150</text>
<line x1="595.20" y1="878.10" x2="595.20" y2="879.40" stroke="#555" stroke-width="0.5" />
<text x="595.20" y="884.20" font-size="4.3" text-anchor="middle">-50</text>
<line x1="612.00" y1="878.10" x2="612.00" y2="879.40" stroke="#555" stroke-width="0.5" />
<text x="612.00" y="884.20" font-size="4.3" text-anchor="middle">50</text>
<line x1="629.30" y1="878.10" x2="629.30" y2="879.40" stroke="#555" stroke-width="0.5" />
<text x="629.30" y="884.20" font-size="4.3" text-anchor="middle">150</text>
<line x1="646.30" y1="878.10" x2="646.30" y2="879.40" stroke="#555" stroke-width="0.5" />
<text x="646.30" y="884.20" font-size="4.3" text-anchor="middle">250</text>
<line x1="487.50" y1="797.80" x2="487.50" y2="875.50" stroke="#555" stroke-width="0.6" stroke-dasharray="2 1.6"/>
<line x1="603.40" y1="797.80" x2="603.40" y2="875.50" stroke="#555" stroke-width="0.6" stroke-dasharray="2 1.6"/>
<polyline points="445.37,815.84 446.60,811.16 448.03,805.80 449.05,808.17 450.07,803.09 451.09,800.27 452.12,803.26 453.14,809.52 454.16,802.58 455.18,807.66 456.61,806.68 457.84,811.05 459.27,807.48 460.29,810.04 461.31,806.18 462.33,800.39 463.36,799.02 464.38,804.46 465.40,809.08 466.42,808.37 467.44,811.33 468.87,812.53 469.90,815.54 471.12,815.31 471.94,817.97 473.17,824.74 474.39,834.09 475.21,840.69 476.03,840.01 476.84,846.37 477.66,851.25 478.68,856.65 479.71,862.04 480.73,868.74 481.34,871.92 482.16,874.04 482.98,870.89 483.79,870.82 484.82,868.83 485.84,865.88 486.86,864.88 487.88,867.21 488.90,863.39 489.92,864.97 490.95,864.24 491.97,868.16 492.99,864.02 494.01,856.17 495.03,850.04 496.06,847.42 497.08,844.05 498.10,842.35 499.12,844.29 500.14,841.41 501.16,838.92 502.19,839.23 503.21,837.14 504.23,831.16 505.25,830.05 506.27,832.65 507.30,834.90 508.32,837.26 509.34,835.06 510.36,833.68 511.38,832.25 512.41,830.92 513.43,834.07 514.45,831.19 515.47,833.00 516.49,829.91 517.51,827.32 518.54,824.50 519.56,829.20 520.58,827.82 521.60,830.01 522.62,825.78 523.65,829.65 524.67,831.92 525.69,826.73 526.71,821.08 527.73,819.80 528.76,817.90 529.78,814.16" fill="none" stroke="#111" stroke-width="0.85" stroke-linejoin="round"/>
<polyline points="559.82,869.43 561.05,870.53 562.48,872.61 563.91,872.31 565.55,873.80 566.98,873.11 568.61,870.03 569.63,869.52 570.66,869.04 571.68,868.12 572.70,867.58 573.72,866.31 574.74,865.84 575.77,864.87 576.79,864.26 577.81,863.57 578.83,862.46 579.85,861.27 580.87,859.99 582.31,859.41 583.94,858.29 584.96,855.82 585.98,852.18 587.41,845.58 589.05,839.79 590.48,832.29 592.12,825.05 593.14,823.10 594.16,820.09 595.18,817.54 596.20,815.52 597.22,813.40 598.25,810.95 599.27,809.17 600.29,806.62 601.31,804.88 602.33,802.71 603.76,801.59 604.99,800.60 606.42,800.18 607.85,800.74 609.08,798.69 610.51,799.76 611.53,803.71 612.55,807.78 613.98,809.36 615.62,810.95 617.25,813.62 618.68,817.90 619.71,820.93 620.73,823.24 621.75,824.76 622.77,826.64 623.79,827.94 624.82,829.36 625.84,831.01 626.86,832.70 628.29,836.33 629.92,841.67 630.95,842.44 631.97,844.38 632.99,845.77 634.01,846.52 635.65,851.15 636.67,851.87 637.69,853.04 638.71,853.67 639.73,854.72 641.16,857.88 642.19,859.44 643.21,859.93 644.64,861.96 646.27,862.19" fill="none" stroke="#111" stroke-width="0.85" stroke-linejoin="round"/>
<line x1="487.70" y1="887.50" x2="487.70" y2="910.60" stroke="#2a2a2a" stroke-width="1.7" />
<path d="M487.70,882.7 L491.60,890.3 L487.70,888.3 L483.80,890.3 Z" fill="#000" stroke="#000" stroke-width="0.5" stroke-linejoin="round"/>
<line x1="603.90" y1="887.50" x2="603.90" y2="910.60" stroke="#2a2a2a" stroke-width="1.7" />
<path d="M603.90,882.7 L607.80,890.3 L603.90,888.3 L600.00,890.3 Z" fill="#000" stroke="#000" stroke-width="0.5" stroke-linejoin="round"/>
<text x="447.00" y="924.00" font-size="11" textLength="91.9" lengthAdjust="spacingAndGlyphs">DDX5 peak summit</text>
<text x="562.70" y="924.00" font-size="11" textLength="91.8" lengthAdjust="spacingAndGlyphs">DDX5 peak summit</text>
<text x="406.10" y="175.40" font-size="10.2" text-anchor="end" transform="rotate(-45 406.10 175.40)" textLength="56.97" lengthAdjust="spacingAndGlyphs">circ-CLASP1</text>
<text x="438.90" y="176.20" font-size="10.2" text-anchor="end" transform="rotate(-45 438.90 176.20)" textLength="51.95" lengthAdjust="spacingAndGlyphs">circ-CHSY1</text>
<text x="472.60" y="176.20" font-size="10.2" text-anchor="end" transform="rotate(-45 472.60 176.20)" textLength="45.07" lengthAdjust="spacingAndGlyphs">circ-ETFA</text>
<text x="506.40" y="175.90" font-size="10.2" text-anchor="end" transform="rotate(-45 506.40 175.90)" textLength="59.66" lengthAdjust="spacingAndGlyphs">circ-CREBBP</text>
<text x="571.30" y="176.50" font-size="10.2" text-anchor="end" transform="rotate(-45 571.30 176.50)" textLength="56.76" lengthAdjust="spacingAndGlyphs">circ-KANSL1</text>
<text x="604.50" y="174.00" font-size="10.2" text-anchor="end" transform="rotate(-45 604.50 174.00)" textLength="47.84" lengthAdjust="spacingAndGlyphs">circ-ENC1</text>
<text x="638.20" y="175.00" font-size="10.2" text-anchor="end" transform="rotate(-45 638.20 175.00)" textLength="68.79" lengthAdjust="spacingAndGlyphs">circ-ARHGAP5</text>
<text x="671.50" y="175.80" font-size="10.2" text-anchor="end" transform="rotate(-45 671.50 175.80)" textLength="57.53" lengthAdjust="spacingAndGlyphs">circ-ZNF124</text>
<text x="93.80" y="429.70" font-size="10.2" text-anchor="end" transform="rotate(-45 93.80 429.70)" textLength="57.96" lengthAdjust="spacingAndGlyphs">circ-ZNF609</text>
<text x="135.30" y="429.80" font-size="10.2" text-anchor="end" transform="rotate(-45 135.30 429.80)" textLength="56.76" lengthAdjust="spacingAndGlyphs">circ-CLASP1</text>
<text x="176.10" y="431.00" font-size="10.2" text-anchor="end" transform="rotate(-45 176.10 431.00)" textLength="50.67" lengthAdjust="spacingAndGlyphs">circ-CHSY1</text>
<text x="220.00" y="431.00" font-size="10.2" text-anchor="end" transform="rotate(-45 220.00 431.00)" textLength="45.21" lengthAdjust="spacingAndGlyphs">circ-ETFA</text>
<text x="262.40" y="429.70" font-size="10.2" text-anchor="end" transform="rotate(-45 262.40 429.70)" textLength="60.15" lengthAdjust="spacingAndGlyphs">circ-CREBBP</text>
<text x="303.60" y="430.80" font-size="10.2" text-anchor="end" transform="rotate(-45 303.60 430.80)" textLength="57.13" lengthAdjust="spacingAndGlyphs">circ-VAMP3</text>
<text x="432.40" y="428.50" font-size="10.2" text-anchor="end" transform="rotate(-45 432.40 428.50)" textLength="57.6" lengthAdjust="spacingAndGlyphs">circ-ZNF609</text>
<text x="472.90" y="429.80" font-size="10.2" text-anchor="end" transform="rotate(-45 472.90 429.80)" textLength="56.26" lengthAdjust="spacingAndGlyphs">circ-KANSL1</text>
<text x="515.00" y="429.80" font-size="10.2" text-anchor="end" transform="rotate(-45 515.00 429.80)" textLength="45.5" lengthAdjust="spacingAndGlyphs">circ-ENC1</text>
<text x="556.70" y="430.40" font-size="10.2" text-anchor="end" transform="rotate(-45 556.70 430.40)" textLength="66.1" lengthAdjust="spacingAndGlyphs">circ-ARHGAP5</text>
<text x="597.60" y="429.70" font-size="10.2" text-anchor="end" transform="rotate(-45 597.60 429.70)" textLength="56.4" lengthAdjust="spacingAndGlyphs">circ-ZNF124</text>
<text x="639.60" y="430.80" font-size="10.2" text-anchor="end" transform="rotate(-45 639.60 430.80)" textLength="55.79" lengthAdjust="spacingAndGlyphs">circ-VAMP3</text>
<text x="91.70" y="696.50" font-size="10.2" text-anchor="end" transform="rotate(-45 91.70 696.50)" textLength="36.6" lengthAdjust="spacingAndGlyphs">ZNF609</text>
<text x="133.80" y="697.30" font-size="10.2" text-anchor="end" transform="rotate(-45 133.80 697.30)" textLength="36.11" lengthAdjust="spacingAndGlyphs">CLASP1</text>
<text x="185.30" y="698.40" font-size="10.2" text-anchor="end" transform="rotate(-45 185.30 698.40)" textLength="29.81" lengthAdjust="spacingAndGlyphs">CHSY1</text>
<text x="237.20" y="697.30" font-size="10.2" text-anchor="end" transform="rotate(-45 237.20 697.30)" textLength="23.29" lengthAdjust="spacingAndGlyphs">ETFA</text>
<text x="288.40" y="697.20" font-size="10.2" text-anchor="end" transform="rotate(-45 288.40 697.20)" textLength="39.01" lengthAdjust="spacingAndGlyphs">CREBBP</text>
<text x="323.00" y="697.20" font-size="10.2" text-anchor="end" transform="rotate(-45 323.00 697.20)" textLength="35.9" lengthAdjust="spacingAndGlyphs">VAMP3</text>
<text x="430.70" y="697.20" font-size="10.2" text-anchor="end" transform="rotate(-45 430.70 697.20)" textLength="20.32" lengthAdjust="spacingAndGlyphs">G9A</text>
<text x="472.40" y="697.20" font-size="10.2" text-anchor="end" transform="rotate(-45 472.40 697.20)" textLength="35.26" lengthAdjust="spacingAndGlyphs">CLASP1</text>
<text x="523.00" y="697.20" font-size="10.2" text-anchor="end" transform="rotate(-45 523.00 697.20)" textLength="30.24" lengthAdjust="spacingAndGlyphs">CHSY1</text>
<text x="574.70" y="697.20" font-size="10.2" text-anchor="end" transform="rotate(-45 574.70 697.20)" textLength="23.58" lengthAdjust="spacingAndGlyphs">ETFA</text>
<text x="621.80" y="696.70" font-size="10.2" text-anchor="end" transform="rotate(-45 621.80 696.70)" textLength="38.23" lengthAdjust="spacingAndGlyphs">CREBBP</text>
<text x="658.60" y="696.70" font-size="10.2" text-anchor="end" transform="rotate(-45 658.60 696.70)" textLength="35.76" lengthAdjust="spacingAndGlyphs">VAMP3</text>
</svg>
</body></html>
